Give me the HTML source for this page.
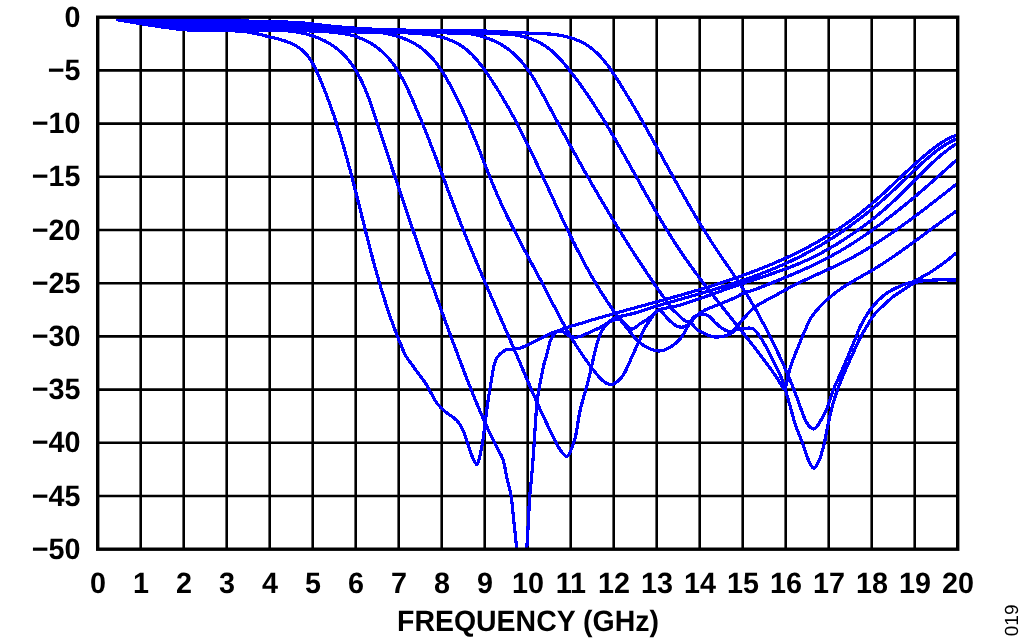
<!DOCTYPE html>
<html><head><meta charset="utf-8"><title>Frequency response</title>
<style>html,body{margin:0;padding:0;background:#fff;}svg{display:block;will-change:transform;}</style></head>
<body><svg width="1024" height="642" viewBox="0 0 1024 642" text-rendering="geometricPrecision">
<defs><clipPath id="pc"><rect x="97.7" y="17.2" width="860.0" height="532.0"/></clipPath></defs>
<rect width="1024" height="642" fill="#fff"/>
<path d="M140.70 17.20V549.20M183.70 17.20V549.20M226.70 17.20V549.20M269.70 17.20V549.20M312.70 17.20V549.20M355.70 17.20V549.20M398.70 17.20V549.20M441.70 17.20V549.20M484.70 17.20V549.20M527.70 17.20V549.20M570.70 17.20V549.20M613.70 17.20V549.20M656.70 17.20V549.20M699.70 17.20V549.20M742.70 17.20V549.20M785.70 17.20V549.20M828.70 17.20V549.20M871.70 17.20V549.20M914.70 17.20V549.20M97.70 70.40H957.70M97.70 123.60H957.70M97.70 176.80H957.70M97.70 230.00H957.70M97.70 283.20H957.70M97.70 336.40H957.70M97.70 389.60H957.70M97.70 442.80H957.70M97.70 496.00H957.70" stroke="#000" stroke-width="2.6" fill="none"/>
<g clip-path="url(#pc)" shape-rendering="crispEdges" stroke="#0000ff" stroke-width="3.2" fill="none" stroke-linejoin="round" stroke-linecap="round"><path d="M117.6 19.8 C122.1 20.5 126.2 21.2 131.0 22.0 C136.6 22.9 142.9 24.0 149.0 25.0 C155.2 26.0 161.8 27.0 168.0 27.8 C173.8 28.6 179.5 29.4 185.0 29.8 C190.1 30.2 193.7 30.1 200.0 30.3 C210.6 30.6 232.1 30.3 243.0 31.4 C249.8 32.1 254.6 33.3 259.3 34.3 C263.0 35.1 265.7 36.0 269.0 36.8 C272.4 37.6 277.1 38.7 279.4 39.3 C280.5 39.6 281.0 39.8 281.9 40.0 C282.7 40.3 283.6 40.6 284.4 40.8 C285.2 41.1 286.0 41.4 286.8 41.7 C287.6 42.0 288.4 42.3 289.2 42.6 C290.0 43.0 290.8 43.3 291.6 43.6 C292.3 44.0 293.1 44.3 293.9 44.7 C294.6 45.1 295.3 45.5 296.0 45.9 C296.8 46.3 297.5 46.7 298.1 47.2 C298.8 47.6 299.5 48.1 300.1 48.6 C300.8 49.1 301.4 49.6 302.0 50.1 C302.6 50.6 303.2 51.1 303.8 51.7 C304.4 52.2 304.9 52.8 305.5 53.4 C306.0 54.0 306.5 54.6 307.1 55.2 C307.6 55.8 308.1 56.5 308.5 57.1 C309.0 57.8 309.5 58.4 309.9 59.1 C310.4 59.8 310.8 60.4 311.3 61.1 C311.7 61.8 312.1 62.5 312.5 63.3 C313.0 64.0 313.4 64.7 313.7 65.4 C314.1 66.2 314.5 66.9 314.9 67.6 C315.3 68.4 315.6 69.1 316.0 69.9 C316.4 70.7 316.7 71.4 317.1 72.2 C317.4 73.0 317.8 73.7 318.1 74.5 C318.5 75.3 318.8 76.1 319.1 76.8 C319.5 77.6 319.8 78.4 320.1 79.2 C320.5 80.0 320.8 80.7 321.1 81.5 C321.4 82.3 321.8 83.1 322.1 83.9 C322.4 84.7 322.7 85.4 323.0 86.2 C323.4 87.0 323.7 87.8 324.0 88.6 C324.3 89.4 324.6 90.1 324.9 90.9 C325.2 91.7 325.5 92.5 325.8 93.3 C326.1 94.1 326.4 94.9 326.7 95.7 C327.0 96.5 327.3 97.2 327.6 98.0 C327.9 98.8 328.2 99.6 328.5 100.4 C328.8 101.2 329.1 102.0 329.4 102.8 C329.7 103.6 330.0 104.4 330.3 105.2 C330.5 106.0 330.8 106.8 331.1 107.6 C331.4 108.4 331.7 109.2 331.9 110.0 C332.2 110.8 332.5 111.6 332.8 112.4 C333.1 113.1 333.3 113.9 333.6 114.7 C333.9 115.5 334.1 116.3 334.4 117.1 C334.7 117.9 334.9 118.8 335.2 119.6 C335.5 120.4 335.7 121.2 336.0 122.0 C336.3 122.8 336.5 123.6 336.8 124.4 C337.0 125.2 337.3 126.0 337.6 126.8 C337.8 127.6 338.1 128.4 338.3 129.2 C338.6 130.0 338.8 130.8 339.1 131.6 C339.3 132.4 339.6 133.2 339.8 134.0 C340.1 134.8 340.3 135.7 340.6 136.5 C340.8 137.3 341.1 138.1 341.3 138.9 C341.5 139.7 341.8 140.5 342.0 141.3 C342.3 142.1 342.5 142.9 342.7 143.8 C343.0 144.6 343.2 145.4 343.4 146.2 C343.7 147.0 343.9 147.8 344.2 148.6 C344.4 149.4 344.6 150.2 344.8 151.1 C345.1 151.9 345.3 152.7 345.5 153.5 C345.8 154.3 346.0 155.1 346.2 155.9 C346.5 156.8 346.7 157.6 346.9 158.4 C347.1 159.2 347.4 160.0 347.6 160.8 C347.8 161.7 348.0 162.5 348.2 163.3 C348.5 164.1 348.7 164.9 348.9 165.7 C349.1 166.6 349.4 167.4 349.6 168.2 C349.8 169.0 350.0 169.8 350.2 170.6 C350.4 171.5 350.7 172.3 350.9 173.1 C351.1 173.9 351.3 174.7 351.5 175.6 C351.7 176.4 352.0 177.2 352.2 178.0 C352.4 178.8 352.6 179.6 352.8 180.5 C353.0 181.3 353.2 182.1 353.4 182.9 C353.7 183.7 353.9 184.6 354.1 185.4 C354.3 186.2 354.5 187.0 354.7 187.8 C354.9 188.7 355.1 189.5 355.3 190.3 C355.5 191.1 355.7 192.0 356.0 192.8 C356.2 193.6 356.4 194.4 356.6 195.2 C356.8 196.1 357.0 196.9 357.2 197.7 C357.4 198.5 357.6 199.3 357.8 200.2 C358.0 201.0 358.2 201.8 358.4 202.6 C358.6 203.5 358.9 204.3 359.1 205.1 C359.3 205.9 359.5 206.7 359.7 207.6 C359.9 208.4 360.1 209.2 360.3 210.0 C360.5 210.8 360.7 211.7 360.9 212.5 C361.1 213.3 361.3 214.1 361.5 215.0 C361.7 215.8 361.9 216.6 362.1 217.4 C362.3 218.2 362.5 219.1 362.7 219.9 C363.0 220.7 363.2 221.5 363.4 222.4 C363.6 223.2 363.8 224.0 364.0 224.8 C364.2 225.6 364.4 226.5 364.6 227.3 C364.8 228.1 365.0 228.9 365.2 229.7 C365.4 230.6 365.6 231.4 365.8 232.2 C366.0 233.0 366.3 233.9 366.5 234.7 C366.7 235.5 366.9 236.3 367.1 237.1 C367.3 238.0 367.5 238.8 367.7 239.6 C367.9 240.4 368.1 241.2 368.3 242.1 C368.6 242.9 368.8 243.7 369.0 244.5 C369.2 245.3 369.4 246.2 369.6 247.0 C369.8 247.8 370.0 248.6 370.3 249.4 C370.5 250.3 370.7 251.1 370.9 251.9 C371.1 252.7 371.3 253.5 371.5 254.4 C371.8 255.2 372.0 256.0 372.2 256.8 C372.4 257.6 372.6 258.4 372.8 259.3 C373.1 260.1 373.3 260.9 373.5 261.7 C373.7 262.5 373.9 263.3 374.2 264.2 C374.4 265.0 374.6 265.8 374.8 266.6 C375.1 267.4 375.3 268.2 375.5 269.1 C375.7 269.9 376.0 270.7 376.2 271.5 C376.4 272.3 376.6 273.1 376.9 273.9 C377.1 274.7 377.3 275.6 377.6 276.4 C377.8 277.2 378.0 278.0 378.3 278.8 C378.5 279.6 378.7 280.4 379.0 281.2 C379.2 282.1 379.4 282.9 379.7 283.7 C379.9 284.5 380.1 285.3 380.4 286.1 C380.6 286.9 380.9 287.7 381.1 288.5 C381.4 289.4 381.6 290.2 381.8 291.0 C382.1 291.8 382.3 292.6 382.6 293.4 C382.8 294.2 383.1 295.0 383.3 295.8 C383.6 296.6 383.8 297.4 384.1 298.2 C384.3 299.0 384.6 299.8 384.9 300.6 C385.1 301.4 385.4 302.3 385.6 303.1 C385.9 303.9 386.1 304.7 386.4 305.5 C386.7 306.3 386.9 307.1 387.2 307.9 C387.5 308.7 387.7 309.5 388.0 310.3 C388.3 311.1 388.5 311.9 388.8 312.7 C389.1 313.5 389.3 314.3 389.6 315.1 C389.9 315.9 390.2 316.7 390.4 317.5 C390.7 318.3 391.0 319.1 391.3 319.9 C391.6 320.6 391.9 321.4 392.1 322.2 C392.4 323.0 392.7 323.8 393.0 324.6 C393.3 325.4 393.6 326.2 393.9 327.0 C394.2 327.8 394.5 328.6 394.8 329.4 C395.1 330.2 395.3 331.0 395.6 331.7 C395.9 332.5 396.3 333.3 396.6 334.1 C396.9 334.9 397.0 335.4 397.5 336.5 C398.3 338.6 400.2 342.9 401.5 346.0 C402.7 348.9 403.3 351.5 405.0 354.6 C407.3 358.8 411.4 363.8 414.8 368.6 C418.4 373.6 422.4 378.5 426.0 384.0 C429.9 390.0 433.4 398.6 437.2 403.6 C440.0 407.2 442.5 409.3 445.6 412.0 C449.0 414.9 453.9 417.3 456.8 420.4 C459.3 423.0 460.9 425.9 462.4 428.8 C463.9 431.7 464.6 434.3 465.8 437.8 C467.5 442.6 469.5 450.2 471.6 455.0 C473.2 458.7 475.1 464.6 476.6 464.4 C478.6 464.2 480.3 453.7 481.7 447.2 C483.5 439.0 484.4 428.0 485.6 419.0 C486.7 410.8 487.7 402.6 488.8 395.6 C489.6 389.9 490.7 384.8 491.5 380.0 C492.2 375.9 492.5 372.4 493.3 368.8 C494.1 365.3 495.0 361.2 496.4 358.6 C497.5 356.6 498.8 355.3 500.3 353.9 C501.9 352.4 503.9 350.8 505.8 350.0 C507.5 349.3 509.3 349.4 511.2 349.2 C513.6 348.9 516.4 349.0 519.0 348.4 C521.7 347.8 524.3 346.5 526.9 345.3 C529.5 344.1 532.1 342.7 534.7 341.4 C537.3 340.1 539.9 338.8 542.5 337.5 C545.1 336.2 547.7 334.7 550.3 333.6 C552.9 332.5 555.3 331.9 558.1 330.9 C561.3 329.7 565.0 328.0 568.2 327.0 C571.0 326.1 574.2 325.5 576.2 324.9 C577.5 324.5 578.2 324.2 579.2 323.9 C580.2 323.6 581.2 323.3 582.2 323.0 C583.2 322.7 584.2 322.4 585.2 322.1 C586.2 321.8 587.2 321.5 588.2 321.1 C589.2 320.8 590.2 320.5 591.2 320.2 C592.2 319.9 593.2 319.6 594.2 319.3 C595.2 319.0 596.2 318.7 597.2 318.5 C598.2 318.2 599.2 317.9 600.2 317.6 C601.2 317.3 602.2 317.0 603.2 316.7 C604.2 316.4 605.2 316.1 606.2 315.8 C607.2 315.5 608.2 315.3 609.2 315.0 C610.2 314.7 611.2 314.4 612.2 314.1 C613.2 313.8 614.2 313.5 615.2 313.3 C616.2 313.0 617.2 312.7 618.2 312.4 C619.2 312.1 620.2 311.9 621.2 311.6 C622.2 311.3 623.2 311.0 624.2 310.7 C625.2 310.5 626.2 310.2 627.2 309.9 C628.2 309.6 629.2 309.4 630.2 309.1 C631.2 308.8 632.2 308.5 633.2 308.3 C634.2 308.0 635.2 307.7 636.2 307.4 C637.2 307.2 638.2 306.9 639.2 306.6 C640.2 306.3 641.2 306.1 642.2 305.8 C643.2 305.5 644.2 305.2 645.2 305.0 C646.2 304.7 647.3 304.4 648.2 304.1 C649.3 303.9 650.3 303.6 651.2 303.3 C652.3 303.0 653.3 302.8 654.2 302.5 C655.3 302.2 656.3 301.9 657.2 301.7 C658.3 301.4 659.3 301.1 660.2 300.8 C661.3 300.6 662.3 300.3 663.2 300.0 C664.3 299.7 665.3 299.5 666.2 299.2 C667.3 298.9 668.3 298.6 669.2 298.4 C670.3 298.1 671.3 297.8 672.2 297.5 C673.3 297.2 674.3 297.0 675.2 296.7 C676.3 296.4 677.3 296.1 678.2 295.8 C679.3 295.5 680.3 295.3 681.2 295.0 C682.3 294.7 683.3 294.4 684.2 294.1 C685.3 293.8 686.3 293.5 687.2 293.2 C688.3 293.0 689.3 292.7 690.2 292.4 C691.3 292.1 692.3 291.8 693.2 291.5 C694.3 291.2 695.3 290.9 696.2 290.6 C697.3 290.3 698.3 290.0 699.2 289.7 C700.3 289.4 701.3 289.1 702.2 288.8 C703.3 288.5 704.3 288.2 705.2 287.9 C706.3 287.6 707.3 287.3 708.2 287.0 C709.3 286.6 710.3 286.3 711.2 286.0 C712.3 285.7 713.3 285.4 714.2 285.1 C715.3 284.8 716.3 284.4 717.2 284.1 C718.3 283.8 719.3 283.5 720.2 283.1 C721.3 282.8 722.3 282.5 723.2 282.2 C724.3 281.8 725.3 281.5 726.2 281.2 C727.3 280.8 728.3 280.5 729.2 280.2 C730.3 279.8 731.3 279.5 732.2 279.1 C733.3 278.8 734.3 278.5 735.2 278.1 C736.3 277.8 737.3 277.4 738.2 277.1 C739.3 276.7 740.3 276.3 741.2 276.0 C742.3 275.6 743.3 275.3 744.2 274.9 C745.3 274.5 746.3 274.2 747.2 273.8 C748.3 273.4 749.3 273.1 750.2 272.7 C751.3 272.3 752.3 271.9 753.2 271.6 C754.3 271.2 755.3 270.8 756.2 270.4 C757.3 270.0 758.3 269.6 759.2 269.2 C760.3 268.8 761.3 268.4 762.2 268.0 C763.3 267.6 764.3 267.2 765.2 266.8 C766.3 266.4 767.3 266.0 768.2 265.6 C769.3 265.2 770.3 264.8 771.2 264.4 C772.3 263.9 773.3 263.5 774.2 263.1 C775.3 262.7 776.3 262.2 777.2 261.8 C778.3 261.4 779.3 260.9 780.2 260.5 C781.3 260.0 782.3 259.6 783.2 259.2 C784.3 258.7 785.3 258.3 786.2 257.8 C787.3 257.3 788.3 256.9 789.2 256.4 C790.3 255.9 791.3 255.5 792.2 255.0 C793.3 254.5 794.3 254.0 795.2 253.6 C796.3 253.1 797.3 252.6 798.2 252.1 C799.3 251.6 800.3 251.1 801.2 250.6 C802.3 250.1 803.3 249.6 804.2 249.0 C805.3 248.5 806.3 248.0 807.2 247.5 C808.3 247.0 809.3 246.4 810.2 245.9 C811.3 245.3 812.3 244.8 813.2 244.2 C814.3 243.7 815.3 243.1 816.2 242.6 C817.3 242.0 818.3 241.4 819.2 240.9 C820.3 240.3 821.3 239.7 822.2 239.1 C823.3 238.5 824.3 237.9 825.2 237.3 C826.3 236.7 827.3 236.1 828.2 235.5 C829.3 234.9 830.3 234.3 831.2 233.6 C832.3 233.0 833.3 232.4 834.2 231.7 C835.3 231.1 836.3 230.4 837.2 229.8 C838.3 229.1 839.3 228.4 840.2 227.8 C841.3 227.1 842.3 226.4 843.2 225.7 C844.3 225.0 845.3 224.3 846.2 223.6 C847.3 222.9 848.3 222.2 849.2 221.5 C850.3 220.8 851.3 220.0 852.2 219.3 C853.3 218.6 854.3 217.8 855.2 217.0 C856.3 216.3 857.3 215.5 858.2 214.8 C859.3 214.0 860.3 213.2 861.2 212.4 C862.3 211.6 863.3 210.8 864.2 210.0 C865.3 209.2 866.3 208.4 867.2 207.5 C868.3 206.7 869.3 205.9 870.2 205.0 C871.3 204.2 872.3 203.3 873.2 202.4 C874.3 201.6 875.3 200.7 876.2 199.8 C877.3 198.9 878.3 198.0 879.2 197.1 C880.3 196.2 881.3 195.3 882.2 194.4 C883.3 193.5 884.3 192.6 885.2 191.7 C886.3 190.7 887.3 189.8 888.2 188.9 C889.3 187.9 890.3 187.0 891.2 186.1 C892.3 185.1 893.3 184.2 894.2 183.3 C895.3 182.3 896.2 181.4 897.2 180.4 C898.2 179.5 899.2 178.6 900.2 177.6 C901.2 176.7 902.2 175.7 903.2 174.8 C904.2 173.9 905.2 172.9 906.2 172.0 C907.2 171.1 908.2 170.1 909.2 169.2 C910.2 168.3 911.2 167.4 912.2 166.5 C913.2 165.6 914.2 164.7 915.2 163.8 C916.2 162.9 917.2 162.0 918.2 161.1 C919.2 160.2 920.2 159.3 921.2 158.5 C922.2 157.6 923.2 156.7 924.2 155.9 C925.2 155.1 926.2 154.2 927.2 153.4 C928.2 152.6 929.2 151.8 930.2 151.0 C931.2 150.2 932.2 149.4 933.2 148.6 C934.2 147.9 935.2 147.1 936.2 146.4 C937.2 145.7 938.2 144.9 939.2 144.2 C940.2 143.6 941.2 142.9 942.2 142.3 C943.2 141.6 944.2 141.0 945.2 140.4 C946.2 139.8 947.2 139.3 948.2 138.7 C949.2 138.2 950.2 137.7 951.2 137.3 C952.2 136.8 953.2 136.4 954.2 136.0 C955.2 135.6 956.6 135.2 957.2 135.0 C957.6 134.9 957.8 134.8 958.0 134.8"/><path d="M117.6 19.8 C125.1 20.5 132.0 20.7 140.0 21.8 C149.3 23.1 160.0 25.9 170.0 27.3 C180.0 28.7 188.7 29.7 200.0 30.3 C214.5 31.1 234.2 30.7 250.0 30.8 C264.2 30.9 280.7 30.2 290.5 31.1 C296.2 31.6 301.1 32.8 303.8 33.4 C305.0 33.6 305.5 33.8 306.3 34.0 C307.1 34.2 307.9 34.5 308.8 34.7 C309.6 34.9 310.4 35.2 311.2 35.4 C312.0 35.7 312.8 35.9 313.6 36.2 C314.4 36.5 315.2 36.8 316.0 37.1 C316.8 37.4 317.5 37.7 318.3 38.0 C319.1 38.3 319.9 38.6 320.6 39.0 C321.4 39.3 322.1 39.6 322.9 40.0 C323.6 40.3 324.3 40.7 325.1 41.1 C325.8 41.5 326.5 41.9 327.2 42.2 C327.9 42.6 328.6 43.0 329.3 43.5 C330.0 43.9 330.7 44.3 331.4 44.7 C332.0 45.2 332.7 45.6 333.4 46.1 C334.0 46.5 334.7 47.0 335.3 47.5 C336.0 47.9 336.6 48.4 337.2 48.9 C337.8 49.4 338.4 49.9 339.1 50.4 C339.7 50.9 340.3 51.5 340.8 52.0 C341.4 52.5 342.0 53.1 342.6 53.6 C343.1 54.2 343.7 54.7 344.2 55.3 C344.8 55.9 345.3 56.5 345.9 57.0 C346.4 57.6 346.9 58.2 347.4 58.8 C347.9 59.4 348.5 60.0 348.9 60.7 C349.4 61.3 349.9 61.9 350.4 62.5 C350.9 63.2 351.4 63.8 351.8 64.5 C352.3 65.1 352.8 65.8 353.2 66.4 C353.6 67.1 354.1 67.8 354.5 68.5 C355.0 69.1 355.4 69.8 355.8 70.5 C356.2 71.2 356.6 71.9 357.1 72.6 C357.5 73.3 357.9 74.0 358.3 74.7 C358.7 75.5 359.0 76.2 359.4 76.9 C359.8 77.6 360.2 78.4 360.6 79.1 C360.9 79.9 361.3 80.6 361.7 81.3 C362.0 82.1 362.4 82.8 362.7 83.6 C363.1 84.4 363.4 85.1 363.8 85.9 C364.1 86.7 364.4 87.4 364.8 88.2 C365.1 89.0 365.4 89.8 365.7 90.5 C366.1 91.3 366.4 92.1 366.7 92.9 C367.0 93.7 367.3 94.5 367.6 95.3 C368.0 96.1 368.3 96.9 368.6 97.7 C368.9 98.5 369.2 99.3 369.5 100.1 C369.7 100.9 370.0 101.7 370.3 102.5 C370.6 103.3 370.9 104.1 371.2 105.0 C371.5 105.8 371.8 106.6 372.0 107.4 C372.3 108.2 372.6 109.0 372.9 109.9 C373.2 110.7 373.4 111.5 373.7 112.3 C374.0 113.1 374.3 114.0 374.5 114.8 C374.8 115.6 375.1 116.4 375.3 117.3 C375.6 118.1 375.9 118.9 376.2 119.7 C376.4 120.6 376.7 121.4 377.0 122.2 C377.2 123.0 377.5 123.9 377.8 124.7 C378.0 125.5 378.3 126.3 378.6 127.1 C378.8 128.0 379.1 128.8 379.4 129.6 C379.6 130.4 379.9 131.2 380.2 132.1 C380.4 132.9 380.7 133.7 381.0 134.5 C381.3 135.3 381.5 136.2 381.8 137.0 C382.1 137.8 382.3 138.6 382.6 139.4 C382.9 140.2 383.1 141.0 383.4 141.9 C383.7 142.7 383.9 143.5 384.2 144.3 C384.5 145.1 384.7 145.9 385.0 146.7 C385.3 147.6 385.5 148.4 385.8 149.2 C386.1 150.0 386.3 150.8 386.6 151.6 C386.9 152.4 387.1 153.2 387.4 154.0 C387.7 154.9 387.9 155.7 388.2 156.5 C388.5 157.3 388.8 158.1 389.0 158.9 C389.3 159.7 389.6 160.5 389.8 161.3 C390.1 162.1 390.4 162.9 390.6 163.7 C390.9 164.6 391.2 165.4 391.4 166.2 C391.7 167.0 392.0 167.8 392.2 168.6 C392.5 169.4 392.8 170.2 393.0 171.0 C393.3 171.8 393.6 172.6 393.8 173.4 C394.1 174.2 394.4 175.0 394.6 175.8 C394.9 176.6 395.2 177.4 395.4 178.2 C395.7 179.0 396.0 179.8 396.3 180.6 C396.5 181.4 396.8 182.2 397.1 183.0 C397.3 183.8 397.6 184.6 397.9 185.4 C398.1 186.2 398.4 187.0 398.7 187.8 C398.9 188.6 399.2 189.4 399.5 190.2 C399.7 191.0 400.0 191.8 400.3 192.6 C400.5 193.4 400.8 194.2 401.1 195.0 C401.4 195.8 401.6 196.6 401.9 197.4 C402.2 198.2 402.4 199.0 402.7 199.8 C403.0 200.6 403.2 201.3 403.5 202.1 C403.8 202.9 404.0 203.7 404.3 204.5 C404.6 205.3 404.9 206.1 405.1 206.9 C405.4 207.7 405.7 208.5 405.9 209.3 C406.2 210.1 406.5 210.9 406.7 211.7 C407.0 212.5 407.3 213.2 407.5 214.0 C407.8 214.8 408.1 215.6 408.4 216.4 C408.6 217.2 408.9 218.0 409.2 218.8 C409.4 219.6 409.7 220.4 410.0 221.1 C410.3 221.9 410.5 222.7 410.8 223.5 C411.1 224.3 411.3 225.1 411.6 225.9 C411.9 226.7 412.1 227.5 412.4 228.3 C412.7 229.0 413.0 229.8 413.2 230.6 C413.5 231.4 413.8 232.2 414.0 233.0 C414.3 233.8 414.6 234.6 414.9 235.3 C415.1 236.1 415.4 236.9 415.7 237.7 C415.9 238.5 416.2 239.3 416.5 240.1 C416.8 240.8 417.0 241.6 417.3 242.4 C417.6 243.2 417.9 244.0 418.1 244.8 C418.4 245.6 418.7 246.3 418.9 247.1 C419.2 247.9 419.5 248.7 419.8 249.5 C420.0 250.3 420.3 251.1 420.6 251.8 C420.9 252.6 421.1 253.4 421.4 254.2 C421.7 255.0 422.0 255.8 422.2 256.6 C422.5 257.3 422.8 258.1 423.1 258.9 C423.3 259.7 423.6 260.5 423.9 261.3 C424.2 262.0 424.4 262.8 424.7 263.6 C425.0 264.4 425.3 265.2 425.5 266.0 C425.8 266.7 426.1 267.5 426.4 268.3 C426.6 269.1 426.9 269.9 427.2 270.7 C427.5 271.4 427.7 272.2 428.0 273.0 C428.3 273.8 428.6 274.6 428.8 275.4 C429.1 276.1 429.4 276.9 429.7 277.7 C430.0 278.5 430.2 279.3 430.5 280.0 C430.8 280.8 431.1 281.6 431.3 282.4 C431.6 283.2 431.9 284.0 432.2 284.7 C432.5 285.5 432.7 286.3 433.0 287.1 C433.3 287.9 433.6 288.7 433.9 289.4 C434.1 290.2 434.4 291.0 434.7 291.8 C435.0 292.6 435.3 293.3 435.5 294.1 C435.8 294.9 436.1 295.7 436.4 296.5 C436.7 297.3 436.9 298.0 437.2 298.8 C437.5 299.6 437.8 300.4 438.1 301.2 C438.3 301.9 438.6 302.7 438.9 303.5 C439.2 304.3 439.5 305.1 439.8 305.9 C440.0 306.6 440.3 307.4 440.6 308.2 C440.9 309.0 441.2 309.8 441.5 310.6 C441.7 311.3 442.0 312.1 442.3 312.9 C442.6 313.7 442.9 314.5 443.2 315.2 C443.4 316.0 443.7 316.8 444.0 317.6 C444.3 318.4 444.6 319.2 444.9 319.9 C445.2 320.7 445.4 321.5 445.7 322.3 C446.0 323.1 446.3 323.9 446.6 324.6 C446.9 325.4 447.2 326.2 447.5 327.0 C447.7 327.8 448.0 328.6 448.3 329.3 C448.6 330.1 448.9 330.9 449.2 331.7 C449.5 332.5 449.8 333.3 450.0 334.0 C450.3 334.8 450.6 335.6 450.9 336.4 C451.2 337.2 451.5 338.0 451.8 338.8 C452.1 339.5 452.4 340.3 452.7 341.1 C452.9 341.9 453.2 342.7 453.5 343.5 C453.8 344.3 454.1 345.0 454.4 345.8 C454.7 346.6 455.0 347.4 455.3 348.2 C455.6 349.0 455.9 349.8 456.2 350.5 C456.4 351.3 456.7 352.1 457.0 352.9 C457.3 353.7 457.6 354.5 457.9 355.3 C458.2 356.1 458.5 356.8 458.8 357.6 C459.1 358.4 459.4 359.2 459.7 360.0 C460.0 360.8 460.3 361.6 460.6 362.3 C460.9 363.1 461.2 363.9 461.5 364.7 C461.8 365.5 462.1 366.3 462.4 367.1 C462.7 367.9 463.0 368.6 463.3 369.4 C463.6 370.2 463.9 371.0 464.2 371.8 C464.5 372.6 464.8 373.4 465.1 374.2 C465.4 374.9 465.7 375.7 466.0 376.5 C466.3 377.3 466.6 378.1 466.9 378.9 C467.2 379.7 467.5 380.4 467.8 381.2 C468.1 382.0 468.4 382.8 468.7 383.6 C469.0 384.4 469.4 385.2 469.7 385.9 C470.0 386.7 470.3 387.5 470.6 388.3 C470.9 389.1 471.2 389.9 471.5 390.6 C471.9 391.4 472.2 392.2 472.5 393.0 C472.8 393.8 473.1 394.6 473.4 395.3 C473.8 396.1 474.1 396.9 474.4 397.7 C474.7 398.5 475.0 399.2 475.3 400.0 C475.7 400.8 476.0 401.6 476.3 402.4 C476.6 403.1 477.0 403.9 477.3 404.7 C477.6 405.5 477.9 406.3 478.3 407.0 C478.6 407.8 478.9 408.6 479.3 409.4 C479.6 410.1 479.9 410.9 480.2 411.7 C480.6 412.5 480.9 413.2 481.2 414.0 C481.6 414.8 481.9 415.6 482.3 416.3 C482.6 417.1 482.9 417.9 483.3 418.6 C483.6 419.4 483.9 420.2 484.3 421.0 C484.6 421.7 485.0 422.5 485.3 423.3 C485.7 424.0 486.0 424.8 486.4 425.6 C486.7 426.3 487.1 427.1 487.4 427.9 C487.8 428.6 488.1 429.4 488.5 430.1 C488.8 430.9 489.2 431.7 489.5 432.4 C489.9 433.2 490.1 433.7 490.6 434.7 C491.7 437.0 494.1 442.0 496.0 445.9 C498.1 450.1 501.0 454.0 502.8 459.0 C505.0 465.1 505.8 473.5 507.3 480.0 C508.6 485.6 510.0 489.8 511.0 495.5 C512.2 502.2 512.6 509.6 513.5 517.6 C514.5 526.9 515.8 539.8 516.6 548.0 C517.2 553.6 515.9 560.1 518.0 562.0 C519.5 563.4 523.5 563.4 525.0 562.0 C527.2 560.1 526.2 553.4 526.7 548.0 C527.4 540.7 527.8 531.0 528.3 522.3 C528.8 513.5 529.2 503.4 529.8 495.5 C530.3 489.2 530.9 484.5 531.4 478.7 C531.9 472.6 532.5 467.0 533.0 460.0 C533.7 451.2 534.3 440.0 535.0 430.0 C535.7 420.0 536.1 409.5 537.3 400.0 C538.4 391.3 540.4 381.6 541.7 375.0 C542.6 370.6 543.1 367.3 544.0 364.0 C544.7 361.2 545.7 359.0 546.4 356.2 C547.3 353.1 547.9 349.1 548.8 346.0 C549.5 343.4 550.1 341.0 551.1 339.0 C552.0 337.2 553.0 335.7 554.2 334.4 C555.3 333.1 556.5 331.6 558.0 331.2 C559.5 330.8 561.4 331.2 563.0 331.8 C564.8 332.5 566.5 334.4 568.4 335.3 C570.4 336.2 572.7 337.0 574.7 337.2 C576.4 337.3 577.6 337.1 579.4 336.6 C581.9 336.0 584.9 334.4 588.0 333.1 C591.6 331.5 596.1 329.6 599.7 327.7 C603.0 326.0 606.1 323.6 609.0 322.2 C611.3 321.1 613.5 320.3 615.3 319.8 C616.7 319.4 617.8 318.8 619.0 319.0 C620.2 319.2 621.4 320.1 622.5 321.0 C623.8 322.0 624.8 323.8 626.0 325.0 C627.1 326.2 628.3 327.6 629.5 328.3 C630.5 328.8 631.5 329.1 632.5 329.0 C633.7 328.8 634.8 327.8 636.0 327.0 C637.3 326.1 638.4 324.9 640.0 323.8 C642.0 322.4 644.7 321.2 647.0 319.6 C649.4 317.9 652.1 315.7 654.0 314.0 C655.4 312.7 655.7 311.6 657.6 310.5 C661.7 308.2 676.0 306.4 680.0 305.3 C681.5 304.8 682.0 304.6 683.0 304.3 C684.0 303.9 685.0 303.6 686.0 303.3 C687.0 302.9 688.0 302.6 689.0 302.3 C690.0 301.9 691.0 301.6 692.0 301.2 C693.0 300.9 694.0 300.6 695.0 300.2 C696.0 299.9 697.0 299.5 698.0 299.2 C699.0 298.8 700.0 298.5 701.0 298.1 C702.0 297.8 703.0 297.4 704.0 297.1 C705.0 296.7 706.0 296.4 707.0 296.0 C708.0 295.7 709.0 295.3 710.0 295.0 C711.0 294.6 712.0 294.3 713.0 293.9 C714.0 293.6 715.0 293.2 716.0 292.8 C717.0 292.5 718.0 292.1 719.0 291.8 C720.0 291.4 721.0 291.1 722.0 290.7 C723.0 290.3 724.0 290.0 725.0 289.6 C726.0 289.3 727.0 288.9 728.0 288.6 C729.0 288.2 730.0 287.9 731.0 287.5 C732.0 287.2 733.0 286.8 734.0 286.5 C735.0 286.1 736.0 285.8 737.0 285.4 C738.0 285.1 739.0 284.7 740.0 284.4 C741.0 284.0 742.0 283.7 743.0 283.4 C744.0 283.0 745.0 282.7 746.0 282.3 C747.0 282.0 748.0 281.7 749.0 281.3 C750.0 281.0 751.0 280.7 752.0 280.4 C753.0 280.0 754.0 279.7 755.0 279.4 C756.0 279.0 757.0 278.7 758.0 278.4 C759.0 278.0 760.0 277.7 761.0 277.4 C762.0 277.1 763.0 276.7 764.0 276.4 C765.0 276.1 766.0 275.7 767.0 275.4 C768.0 275.1 769.0 274.7 770.0 274.4 C771.0 274.0 772.0 273.7 773.0 273.4 C774.0 273.0 775.0 272.7 776.0 272.3 C777.0 272.0 778.0 271.6 779.0 271.3 C780.0 270.9 781.0 270.6 782.0 270.2 C783.0 269.8 784.0 269.5 785.0 269.1 C786.0 268.7 787.0 268.4 788.0 268.0 C789.0 267.6 790.0 267.2 791.0 266.8 C792.0 266.4 793.0 266.0 794.0 265.6 C795.0 265.2 796.0 264.8 797.0 264.4 C798.0 264.0 799.0 263.6 800.0 263.2 C801.0 262.7 802.0 262.3 803.0 261.9 C804.0 261.4 805.0 261.0 806.0 260.5 C807.0 260.1 808.0 259.6 809.0 259.1 C810.0 258.7 811.0 258.2 812.0 257.7 C813.0 257.2 814.0 256.7 815.0 256.2 C816.0 255.7 817.0 255.2 818.0 254.7 C819.0 254.2 820.0 253.7 821.0 253.1 C822.0 252.6 823.0 252.0 824.0 251.5 C825.0 250.9 826.0 250.4 827.0 249.8 C828.0 249.3 829.0 248.7 830.0 248.1 C831.0 247.5 832.0 246.9 833.0 246.4 C834.0 245.8 835.0 245.2 836.0 244.6 C837.0 243.9 838.0 243.3 839.0 242.7 C840.0 242.1 841.0 241.5 842.0 240.8 C843.0 240.2 844.0 239.5 845.0 238.9 C846.0 238.2 847.0 237.6 848.0 236.9 C849.0 236.3 850.0 235.6 851.0 234.9 C852.0 234.2 853.0 233.6 854.0 232.9 C855.0 232.2 856.0 231.5 857.0 230.8 C858.0 230.1 859.0 229.4 860.0 228.6 C861.0 227.9 862.0 227.2 863.0 226.5 C864.0 225.7 865.0 225.0 866.0 224.2 C867.0 223.5 868.0 222.7 869.0 222.0 C870.0 221.2 871.0 220.4 872.0 219.6 C873.0 218.8 874.0 218.0 875.0 217.2 C876.0 216.4 877.0 215.6 878.0 214.8 C879.0 214.0 880.0 213.1 881.0 212.3 C882.0 211.5 883.0 210.6 884.0 209.7 C885.0 208.9 886.0 208.0 887.0 207.1 C888.0 206.2 889.0 205.3 890.0 204.4 C891.0 203.5 892.0 202.6 893.0 201.7 C894.0 200.8 895.0 199.8 896.0 198.9 C897.0 197.9 898.0 196.9 899.0 196.0 C900.0 195.0 901.0 194.0 902.0 193.0 C903.0 192.0 904.0 191.1 905.0 190.1 C906.0 189.1 907.0 188.0 908.0 187.0 C909.0 186.0 910.0 185.0 911.0 184.0 C912.0 183.0 913.0 182.0 914.0 181.0 C915.0 179.9 916.0 178.9 917.0 177.9 C918.0 176.9 919.0 175.9 920.0 174.9 C921.0 173.9 922.0 172.9 923.0 171.9 C924.0 170.9 925.0 169.9 926.0 168.9 C927.0 168.0 928.0 167.0 929.0 166.0 C930.0 165.1 931.0 164.1 932.0 163.2 C933.0 162.3 934.0 161.3 935.0 160.4 C936.0 159.5 937.0 158.6 938.0 157.8 C939.0 156.9 940.0 156.0 941.0 155.2 C942.0 154.3 943.0 153.5 944.0 152.7 C945.0 151.9 946.0 151.1 947.0 150.4 C948.0 149.6 949.0 148.9 950.0 148.1 C951.0 147.4 952.0 146.7 953.0 146.1 C954.0 145.4 955.1 144.7 956.0 144.2 C956.7 143.7 957.3 143.4 958.0 143.0"/><path d="M117.6 19.8 C128.4 21.3 138.6 22.7 150.0 24.2 C162.6 25.8 175.9 28.0 190.0 29.0 C205.7 30.1 221.4 29.5 240.0 29.8 C263.5 30.2 301.1 30.2 320.0 31.3 C330.5 31.9 340.4 33.1 344.3 33.7 C345.6 33.9 346.0 34.0 346.8 34.2 C347.7 34.4 348.5 34.5 349.3 34.7 C350.1 34.9 350.9 35.1 351.7 35.3 C352.5 35.6 353.3 35.8 354.1 36.0 C354.9 36.3 355.7 36.5 356.4 36.8 C357.2 37.0 358.0 37.3 358.7 37.6 C359.5 37.8 360.2 38.1 361.0 38.4 C361.7 38.7 362.5 39.0 363.2 39.3 C363.9 39.7 364.7 40.0 365.4 40.4 C366.1 40.7 366.8 41.1 367.5 41.4 C368.2 41.8 368.9 42.2 369.6 42.6 C370.3 43.0 371.0 43.4 371.6 43.8 C372.3 44.2 373.0 44.6 373.6 45.1 C374.3 45.5 374.9 45.9 375.6 46.4 C376.2 46.9 376.8 47.3 377.5 47.8 C378.1 48.3 378.7 48.8 379.3 49.3 C379.9 49.8 380.5 50.3 381.1 50.8 C381.7 51.3 382.3 51.9 382.9 52.4 C383.5 52.9 384.1 53.5 384.6 54.0 C385.2 54.6 385.7 55.2 386.3 55.8 C386.8 56.3 387.4 56.9 387.9 57.5 C388.5 58.1 389.0 58.7 389.5 59.3 C390.0 59.9 390.5 60.6 391.0 61.2 C391.5 61.8 392.0 62.5 392.5 63.1 C393.0 63.8 393.5 64.4 394.0 65.1 C394.5 65.8 394.9 66.4 395.4 67.1 C395.9 67.8 396.3 68.5 396.8 69.2 C397.2 69.9 397.7 70.6 398.1 71.3 C398.5 72.0 399.0 72.7 399.4 73.4 C399.8 74.1 400.2 74.9 400.7 75.6 C401.1 76.3 401.5 77.1 401.9 77.8 C402.3 78.5 402.7 79.3 403.1 80.0 C403.5 80.8 403.9 81.5 404.3 82.3 C404.7 83.0 405.0 83.8 405.4 84.6 C405.8 85.3 406.2 86.1 406.6 86.9 C406.9 87.6 407.3 88.4 407.7 89.2 C408.0 90.0 408.4 90.7 408.8 91.5 C409.1 92.3 409.5 93.1 409.8 93.9 C410.2 94.7 410.5 95.4 410.9 96.2 C411.2 97.0 411.6 97.8 411.9 98.6 C412.3 99.4 412.6 100.2 413.0 101.0 C413.3 101.7 413.7 102.5 414.0 103.3 C414.3 104.1 414.7 104.9 415.0 105.7 C415.4 106.5 415.7 107.3 416.0 108.1 C416.4 108.8 416.7 109.6 417.0 110.4 C417.4 111.2 417.7 112.0 418.0 112.8 C418.4 113.6 418.7 114.4 419.0 115.2 C419.4 115.9 419.7 116.7 420.0 117.5 C420.3 118.3 420.7 119.1 421.0 119.9 C421.3 120.7 421.6 121.5 422.0 122.3 C422.3 123.0 422.6 123.8 422.9 124.6 C423.2 125.4 423.6 126.2 423.9 127.0 C424.2 127.8 424.5 128.6 424.8 129.3 C425.1 130.1 425.5 130.9 425.8 131.7 C426.1 132.5 426.4 133.3 426.7 134.1 C427.0 134.9 427.3 135.7 427.6 136.4 C427.9 137.2 428.3 138.0 428.6 138.8 C428.9 139.6 429.2 140.4 429.5 141.2 C429.8 142.0 430.1 142.7 430.4 143.5 C430.7 144.3 431.0 145.1 431.3 145.9 C431.6 146.7 431.9 147.5 432.2 148.2 C432.5 149.0 432.8 149.8 433.1 150.6 C433.5 151.4 433.8 152.2 434.1 153.0 C434.4 153.8 434.7 154.5 435.0 155.3 C435.3 156.1 435.6 156.9 435.9 157.7 C436.2 158.5 436.4 159.3 436.7 160.0 C437.0 160.8 437.3 161.6 437.6 162.4 C437.9 163.2 438.2 164.0 438.5 164.8 C438.8 165.5 439.1 166.3 439.4 167.1 C439.7 167.9 440.0 168.7 440.3 169.5 C440.6 170.3 440.9 171.0 441.2 171.8 C441.5 172.6 441.8 173.4 442.1 174.2 C442.4 175.0 442.7 175.8 443.0 176.5 C443.3 177.3 443.5 178.1 443.8 178.9 C444.1 179.7 444.4 180.5 444.7 181.2 C445.0 182.0 445.3 182.8 445.6 183.6 C445.9 184.4 446.2 185.2 446.5 185.9 C446.8 186.7 447.1 187.5 447.4 188.3 C447.7 189.1 447.9 189.9 448.2 190.6 C448.5 191.4 448.8 192.2 449.1 193.0 C449.4 193.8 449.7 194.6 450.0 195.3 C450.3 196.1 450.6 196.9 450.9 197.7 C451.2 198.5 451.5 199.2 451.8 200.0 C452.1 200.8 452.4 201.6 452.7 202.4 C452.9 203.1 453.2 203.9 453.5 204.7 C453.8 205.5 454.1 206.3 454.4 207.0 C454.7 207.8 455.0 208.6 455.3 209.4 C455.6 210.2 455.9 210.9 456.2 211.7 C456.5 212.5 456.8 213.3 457.1 214.1 C457.4 214.8 457.7 215.6 458.0 216.4 C458.3 217.2 458.6 218.0 458.9 218.7 C459.2 219.5 459.5 220.3 459.8 221.1 C460.1 221.8 460.4 222.6 460.7 223.4 C461.0 224.2 461.3 225.0 461.6 225.7 C461.9 226.5 462.2 227.3 462.5 228.1 C462.8 228.8 463.2 229.6 463.5 230.4 C463.8 231.2 464.1 231.9 464.4 232.7 C464.7 233.5 465.0 234.3 465.3 235.0 C465.6 235.8 465.9 236.6 466.2 237.4 C466.6 238.1 466.9 238.9 467.2 239.7 C467.5 240.5 467.8 241.2 468.1 242.0 C468.4 242.8 468.8 243.6 469.1 244.3 C469.4 245.1 469.7 245.9 470.0 246.6 C470.3 247.4 470.7 248.2 471.0 249.0 C471.3 249.7 471.6 250.5 471.9 251.3 C472.2 252.1 472.6 252.8 472.9 253.6 C473.2 254.4 473.5 255.1 473.8 255.9 C474.2 256.7 474.5 257.5 474.8 258.2 C475.1 259.0 475.5 259.8 475.8 260.5 C476.1 261.3 476.4 262.1 476.8 262.8 C477.1 263.6 477.4 264.4 477.7 265.2 C478.1 265.9 478.4 266.7 478.7 267.5 C479.0 268.2 479.4 269.0 479.7 269.8 C480.0 270.6 480.3 271.3 480.7 272.1 C481.0 272.9 481.3 273.6 481.7 274.4 C482.0 275.2 482.3 275.9 482.6 276.7 C483.0 277.5 483.3 278.2 483.6 279.0 C484.0 279.8 484.3 280.6 484.6 281.3 C485.0 282.1 485.3 282.9 485.6 283.6 C486.0 284.4 486.3 285.2 486.6 285.9 C486.9 286.7 487.3 287.5 487.6 288.2 C487.9 289.0 488.3 289.8 488.6 290.5 C488.9 291.3 489.3 292.1 489.6 292.8 C489.9 293.6 490.3 294.4 490.6 295.2 C490.9 295.9 491.3 296.7 491.6 297.5 C491.9 298.2 492.3 299.0 492.6 299.8 C493.0 300.5 493.3 301.3 493.6 302.1 C494.0 302.8 494.3 303.6 494.6 304.4 C495.0 305.1 495.3 305.9 495.6 306.7 C496.0 307.4 496.3 308.2 496.6 309.0 C497.0 309.7 497.3 310.5 497.6 311.3 C498.0 312.1 498.3 312.8 498.7 313.6 C499.0 314.4 499.3 315.1 499.7 315.9 C500.0 316.7 500.3 317.4 500.7 318.2 C501.0 319.0 501.3 319.7 501.7 320.5 C502.0 321.3 502.3 322.0 502.7 322.8 C503.0 323.6 503.4 324.3 503.7 325.1 C504.0 325.9 504.4 326.7 504.7 327.4 C505.0 328.2 505.4 329.0 505.7 329.7 C506.0 330.5 506.4 331.3 506.7 332.0 C507.0 332.8 507.4 333.6 507.7 334.3 C508.0 335.1 508.4 335.9 508.7 336.7 C509.0 337.4 509.4 338.2 509.7 339.0 C510.0 339.7 510.4 340.5 510.7 341.3 C511.0 342.0 511.4 342.8 511.7 343.6 C512.0 344.3 512.4 345.1 512.7 345.9 C513.0 346.7 513.4 347.4 513.7 348.2 C514.0 349.0 514.4 349.7 514.7 350.5 C515.0 351.3 515.4 352.1 515.7 352.8 C516.0 353.6 516.4 354.4 516.7 355.1 C517.0 355.9 517.4 356.7 517.7 357.5 C518.0 358.2 518.3 359.0 518.7 359.8 C519.0 360.5 519.3 361.3 519.7 362.1 C520.0 362.9 520.3 363.6 520.6 364.4 C521.0 365.2 521.3 366.0 521.6 366.7 C522.0 367.5 522.3 368.3 522.6 369.0 C522.9 369.8 523.3 370.6 523.6 371.4 C523.9 372.1 524.3 372.9 524.6 373.7 C524.9 374.5 525.2 375.2 525.6 376.0 C525.9 376.8 526.2 377.5 526.6 378.3 C526.9 379.1 527.2 379.9 527.5 380.6 C527.9 381.4 528.2 382.2 528.5 382.9 C528.9 383.7 529.2 384.5 529.5 385.3 C529.9 386.0 530.2 386.8 530.5 387.6 C530.8 388.3 531.2 389.1 531.5 389.9 C531.8 390.6 532.2 391.4 532.5 392.2 C532.8 393.0 533.2 393.7 533.5 394.5 C533.9 395.3 534.2 396.0 534.5 396.8 C534.9 397.6 535.2 398.3 535.5 399.1 C535.9 399.9 536.2 400.6 536.6 401.4 C536.9 402.2 537.2 402.9 537.6 403.7 C537.9 404.5 538.3 405.2 538.6 406.0 C539.0 406.8 539.3 407.5 539.6 408.3 C540.0 409.0 540.3 409.8 540.7 410.6 C541.0 411.3 541.4 412.1 541.7 412.9 C542.1 413.6 542.4 414.4 542.8 415.1 C543.1 415.9 543.5 416.7 543.9 417.4 C544.2 418.2 544.6 418.9 544.9 419.7 C545.3 420.4 545.6 421.2 546.0 422.0 C546.4 422.7 546.6 423.1 547.1 424.2 C548.6 427.4 553.4 437.7 556.0 442.5 C557.7 445.7 558.8 447.9 560.6 450.3 C562.4 452.6 564.9 457.0 566.9 456.6 C569.8 456.1 572.6 446.0 574.7 439.4 C577.3 431.2 577.8 420.6 580.0 411.0 C582.3 400.8 585.9 389.8 588.4 380.0 C590.6 371.2 592.4 362.2 594.2 355.0 C595.6 349.4 596.7 344.3 598.1 340.2 C599.1 337.1 600.1 334.6 601.2 332.3 C602.2 330.3 603.1 328.6 604.4 326.9 C605.7 325.2 607.4 323.7 609.0 322.2 C610.5 320.8 611.9 319.1 613.7 318.2 C615.6 317.2 617.4 317.1 620.0 316.5 C623.9 315.5 629.6 314.5 635.0 313.0 C641.5 311.2 649.1 308.4 656.4 306.2 C664.1 303.9 675.9 300.6 680.0 299.4 C681.5 298.9 682.0 298.8 683.0 298.5 C684.0 298.2 685.0 297.9 686.0 297.6 C687.0 297.4 688.0 297.1 689.0 296.8 C690.0 296.5 691.0 296.2 692.0 295.9 C693.0 295.6 694.0 295.3 695.0 295.1 C696.0 294.8 697.0 294.5 698.0 294.2 C699.0 293.9 700.0 293.6 701.0 293.3 C702.0 293.0 703.0 292.7 704.0 292.4 C705.0 292.2 706.0 291.9 707.0 291.6 C708.0 291.3 709.0 291.0 710.0 290.7 C711.0 290.4 712.0 290.1 713.0 289.8 C714.0 289.5 715.0 289.2 716.0 288.9 C717.0 288.6 718.0 288.3 719.0 288.0 C720.0 287.7 721.0 287.3 722.0 287.0 C723.0 286.7 724.0 286.4 725.0 286.1 C726.0 285.8 727.0 285.5 728.0 285.2 C729.0 284.8 730.0 284.5 731.0 284.2 C732.0 283.9 733.0 283.6 734.0 283.2 C735.0 282.9 736.0 282.6 737.0 282.2 C738.0 281.9 739.0 281.6 740.0 281.2 C741.0 280.9 742.0 280.6 743.0 280.2 C744.0 279.9 745.0 279.5 746.0 279.2 C747.0 278.8 748.0 278.5 749.0 278.1 C750.0 277.8 751.0 277.4 752.0 277.1 C753.0 276.7 754.0 276.3 755.0 276.0 C756.0 275.6 757.0 275.2 758.0 274.9 C759.0 274.5 760.0 274.1 761.0 273.7 C762.0 273.3 763.0 272.9 764.0 272.6 C765.0 272.2 766.0 271.8 767.0 271.4 C768.0 271.0 769.0 270.6 770.0 270.2 C771.0 269.8 772.0 269.4 773.0 268.9 C774.0 268.5 775.0 268.1 776.0 267.7 C777.0 267.3 778.0 266.8 779.0 266.4 C780.0 266.0 781.0 265.5 782.0 265.1 C783.0 264.6 784.0 264.2 785.0 263.7 C786.0 263.3 787.0 262.8 788.0 262.4 C789.0 261.9 790.0 261.4 791.0 261.0 C792.0 260.5 793.0 260.0 794.0 259.5 C795.0 259.0 796.0 258.6 797.0 258.1 C798.0 257.6 799.0 257.1 800.0 256.6 C801.0 256.1 802.0 255.5 803.0 255.0 C804.0 254.5 805.0 254.0 806.0 253.5 C807.0 252.9 808.0 252.4 809.0 251.9 C810.0 251.3 811.0 250.8 812.0 250.2 C813.0 249.7 814.0 249.1 815.0 248.5 C816.0 248.0 817.0 247.4 818.0 246.8 C819.0 246.2 820.0 245.6 821.0 245.1 C822.0 244.5 823.0 243.9 824.0 243.3 C825.0 242.7 826.0 242.0 827.0 241.4 C828.0 240.8 829.0 240.2 830.0 239.6 C831.0 238.9 832.0 238.3 833.0 237.6 C834.0 237.0 835.0 236.3 836.0 235.7 C837.0 235.0 838.0 234.4 839.0 233.7 C840.0 233.0 841.0 232.3 842.0 231.7 C843.0 231.0 844.0 230.3 845.0 229.6 C846.0 228.9 847.0 228.2 848.0 227.5 C849.0 226.8 850.0 226.1 851.0 225.3 C852.0 224.6 853.0 223.9 854.0 223.1 C855.0 222.4 856.0 221.6 857.0 220.9 C858.0 220.1 859.0 219.4 860.0 218.6 C861.0 217.9 862.0 217.1 863.0 216.3 C864.0 215.5 865.0 214.7 866.0 213.9 C867.0 213.1 868.0 212.3 869.0 211.5 C870.0 210.7 871.0 209.9 872.0 209.1 C873.0 208.3 874.0 207.4 875.0 206.6 C876.0 205.8 877.0 204.9 878.0 204.1 C879.0 203.2 880.0 202.4 881.0 201.5 C882.0 200.6 883.0 199.7 884.0 198.9 C885.0 198.0 886.0 197.1 887.0 196.2 C888.0 195.3 889.0 194.4 890.0 193.5 C891.0 192.6 892.0 191.7 893.0 190.7 C894.0 189.8 895.0 188.9 896.0 187.9 C897.0 187.0 898.0 186.0 899.0 185.1 C900.0 184.1 901.0 183.2 902.0 182.2 C903.0 181.3 904.0 180.3 905.0 179.3 C906.0 178.4 907.0 177.4 908.0 176.4 C909.0 175.5 910.0 174.5 911.0 173.6 C912.0 172.6 913.0 171.6 914.0 170.7 C915.0 169.7 916.0 168.8 917.0 167.9 C918.0 166.9 919.0 166.0 920.0 165.1 C921.0 164.1 922.0 163.2 923.0 162.3 C924.0 161.4 925.0 160.5 926.0 159.6 C927.0 158.8 928.0 157.9 929.0 157.0 C930.0 156.2 931.0 155.4 932.0 154.5 C933.0 153.7 934.0 152.9 935.0 152.1 C936.0 151.3 937.0 150.6 938.0 149.8 C939.0 149.1 940.0 148.4 941.0 147.7 C942.0 147.0 943.0 146.3 944.0 145.6 C945.0 145.0 946.0 144.4 947.0 143.8 C948.0 143.2 949.0 142.6 950.0 142.0 C951.0 141.5 952.0 141.0 953.0 140.5 C954.0 140.0 955.1 139.5 956.0 139.1 C956.7 138.8 957.3 138.6 958.0 138.3"/><path d="M117.6 19.8 C131.7 22.0 146.0 25.1 160.0 26.5 C173.5 27.9 186.7 27.9 200.0 28.3 C213.3 28.7 224.4 28.6 240.0 29.0 C262.1 29.5 295.1 30.6 320.0 31.2 C341.8 31.8 374.5 32.0 381.3 32.6 C382.7 32.8 382.9 32.9 383.7 33.1 C384.6 33.2 385.4 33.4 386.2 33.5 C387.0 33.7 387.8 33.9 388.6 34.1 C389.4 34.2 390.2 34.4 391.0 34.6 C391.8 34.8 392.6 35.0 393.4 35.2 C394.2 35.4 395.0 35.7 395.8 35.9 C396.6 36.1 397.4 36.4 398.2 36.6 C399.0 36.8 399.8 37.1 400.5 37.4 C401.3 37.6 402.1 37.9 402.9 38.2 C403.6 38.5 404.4 38.8 405.2 39.1 C405.9 39.4 406.7 39.7 407.4 40.0 C408.2 40.3 408.9 40.7 409.6 41.0 C410.4 41.4 411.1 41.7 411.8 42.1 C412.5 42.5 413.2 42.9 413.9 43.2 C414.6 43.6 415.3 44.0 416.0 44.5 C416.7 44.9 417.4 45.3 418.1 45.7 C418.7 46.2 419.4 46.6 420.0 47.1 C420.7 47.6 421.3 48.0 422.0 48.5 C422.6 49.0 423.2 49.5 423.8 50.0 C424.4 50.6 425.0 51.1 425.6 51.6 C426.2 52.1 426.8 52.7 427.4 53.2 C428.0 53.8 428.6 54.4 429.1 54.9 C429.7 55.5 430.3 56.1 430.8 56.7 C431.4 57.3 431.9 57.9 432.4 58.5 C433.0 59.1 433.5 59.7 434.0 60.4 C434.5 61.0 435.1 61.6 435.6 62.3 C436.1 62.9 436.6 63.6 437.1 64.2 C437.6 64.9 438.0 65.6 438.5 66.2 C439.0 66.9 439.5 67.6 440.0 68.3 C440.4 68.9 440.9 69.6 441.4 70.3 C441.8 71.0 442.3 71.7 442.7 72.4 C443.2 73.1 443.6 73.8 444.1 74.5 C444.5 75.3 444.9 76.0 445.4 76.7 C445.8 77.4 446.2 78.1 446.7 78.9 C447.1 79.6 447.5 80.3 447.9 81.1 C448.3 81.8 448.8 82.5 449.2 83.3 C449.6 84.0 450.0 84.7 450.4 85.5 C450.8 86.2 451.2 87.0 451.6 87.7 C452.0 88.5 452.4 89.2 452.8 89.9 C453.2 90.7 453.6 91.4 453.9 92.2 C454.3 92.9 454.7 93.7 455.1 94.4 C455.5 95.2 455.8 95.9 456.2 96.7 C456.6 97.5 457.0 98.2 457.3 99.0 C457.7 99.7 458.1 100.5 458.4 101.2 C458.8 102.0 459.2 102.8 459.5 103.5 C459.9 104.3 460.3 105.0 460.6 105.8 C461.0 106.6 461.3 107.3 461.7 108.1 C462.0 108.9 462.4 109.6 462.7 110.4 C463.1 111.2 463.4 111.9 463.8 112.7 C464.1 113.5 464.5 114.2 464.8 115.0 C465.1 115.8 465.5 116.5 465.8 117.3 C466.1 118.1 466.5 118.9 466.8 119.6 C467.1 120.4 467.5 121.2 467.8 122.0 C468.1 122.7 468.5 123.5 468.8 124.3 C469.1 125.1 469.5 125.8 469.8 126.6 C470.1 127.4 470.4 128.2 470.8 129.0 C471.1 129.7 471.4 130.5 471.7 131.3 C472.0 132.1 472.4 132.8 472.7 133.6 C473.0 134.4 473.3 135.2 473.6 136.0 C473.9 136.8 474.3 137.5 474.6 138.3 C474.9 139.1 475.2 139.9 475.5 140.7 C475.8 141.4 476.1 142.2 476.5 143.0 C476.8 143.8 477.1 144.6 477.4 145.4 C477.7 146.1 478.0 146.9 478.3 147.7 C478.6 148.5 478.9 149.3 479.3 150.1 C479.6 150.9 479.9 151.6 480.2 152.4 C480.5 153.2 480.8 154.0 481.1 154.8 C481.4 155.6 481.7 156.3 482.0 157.1 C482.3 157.9 482.6 158.7 483.0 159.5 C483.3 160.3 483.6 161.1 483.9 161.8 C484.2 162.6 484.5 163.4 484.8 164.2 C485.1 165.0 485.4 165.8 485.7 166.5 C486.0 167.3 486.4 168.1 486.7 168.9 C487.0 169.7 487.3 170.5 487.6 171.2 C487.9 172.0 488.2 172.8 488.5 173.6 C488.8 174.4 489.2 175.1 489.5 175.9 C489.8 176.7 490.1 177.5 490.4 178.3 C490.7 179.1 491.1 179.8 491.4 180.6 C491.7 181.4 492.0 182.2 492.3 182.9 C492.6 183.7 493.0 184.5 493.3 185.3 C493.6 186.1 493.9 186.8 494.3 187.6 C494.6 188.4 494.9 189.2 495.2 189.9 C495.6 190.7 495.9 191.5 496.2 192.3 C496.6 193.0 496.9 193.8 497.2 194.6 C497.6 195.3 497.9 196.1 498.2 196.9 C498.6 197.6 498.9 198.4 499.2 199.2 C499.6 199.9 499.9 200.7 500.3 201.5 C500.6 202.2 501.0 203.0 501.3 203.8 C501.6 204.5 502.0 205.3 502.3 206.1 C502.7 206.8 503.0 207.6 503.4 208.3 C503.8 209.1 504.1 209.9 504.5 210.6 C504.8 211.4 505.2 212.1 505.6 212.9 C505.9 213.7 506.3 214.4 506.6 215.2 C507.0 215.9 507.4 216.7 507.7 217.4 C508.1 218.2 508.5 218.9 508.8 219.7 C509.2 220.4 509.6 221.2 510.0 221.9 C510.3 222.7 510.7 223.4 511.1 224.2 C511.5 224.9 511.8 225.7 512.2 226.4 C512.6 227.2 513.0 227.9 513.3 228.7 C513.7 229.4 514.1 230.2 514.5 230.9 C514.9 231.7 515.3 232.4 515.6 233.1 C516.0 233.9 516.4 234.6 516.8 235.4 C517.2 236.1 517.6 236.9 518.0 237.6 C518.3 238.3 518.7 239.1 519.1 239.8 C519.5 240.6 519.9 241.3 520.3 242.1 C520.7 242.8 521.1 243.5 521.5 244.3 C521.9 245.0 522.3 245.8 522.6 246.5 C523.0 247.2 523.4 248.0 523.8 248.7 C524.2 249.5 524.6 250.2 525.0 250.9 C525.4 251.7 525.8 252.4 526.2 253.2 C526.6 253.9 527.0 254.6 527.4 255.4 C527.8 256.1 528.2 256.8 528.6 257.6 C529.0 258.3 529.4 259.1 529.8 259.8 C530.2 260.5 530.5 261.3 530.9 262.0 C531.3 262.8 531.7 263.5 532.1 264.2 C532.5 265.0 532.9 265.7 533.3 266.5 C533.7 267.2 534.1 267.9 534.5 268.7 C534.9 269.4 535.3 270.2 535.7 270.9 C536.1 271.6 536.5 272.4 536.9 273.1 C537.3 273.9 537.7 274.6 538.1 275.3 C538.4 276.1 538.8 276.8 539.2 277.6 C539.6 278.3 540.0 279.0 540.4 279.8 C540.8 280.5 541.2 281.3 541.6 282.0 C542.0 282.8 542.4 283.5 542.7 284.2 C543.1 285.0 543.5 285.7 543.9 286.5 C544.3 287.2 544.7 288.0 545.1 288.7 C545.4 289.4 545.8 290.2 546.2 290.9 C546.6 291.7 547.0 292.4 547.4 293.2 C547.8 293.9 548.1 294.7 548.5 295.4 C548.9 296.2 549.3 296.9 549.7 297.6 C550.1 298.4 550.4 299.1 550.8 299.9 C551.2 300.6 551.6 301.4 552.0 302.1 C552.4 302.9 552.7 303.6 553.1 304.3 C553.5 305.1 553.9 305.8 554.3 306.6 C554.7 307.3 555.1 308.1 555.5 308.8 C555.8 309.6 556.2 310.3 556.6 311.0 C557.0 311.8 557.4 312.5 557.8 313.3 C558.2 314.0 558.6 314.7 559.0 315.5 C559.4 316.2 559.8 317.0 560.2 317.7 C560.5 318.4 560.9 319.2 561.3 319.9 C561.7 320.7 562.1 321.4 562.5 322.1 C562.9 322.9 563.3 323.6 563.7 324.3 C564.1 325.1 564.6 325.8 565.0 326.5 C565.4 327.3 565.8 328.0 566.2 328.7 C566.6 329.4 567.0 330.2 567.4 330.9 C567.8 331.6 568.3 332.4 568.7 333.1 C569.1 333.8 569.5 334.5 569.9 335.2 C570.4 336.0 570.6 336.4 571.2 337.4 C572.7 339.9 576.0 345.4 579.0 349.8 C582.6 355.2 587.5 362.3 591.3 367.3 C594.4 371.3 597.2 375.1 600.0 377.9 C602.1 380.0 604.0 381.9 606.0 383.0 C607.7 383.9 609.3 384.7 611.0 384.6 C612.7 384.5 614.6 383.3 616.0 382.5 C617.3 381.8 618.1 381.2 619.3 380.0 C621.1 378.2 623.2 375.0 625.0 372.0 C627.0 368.5 628.7 364.0 630.5 360.0 C632.3 356.0 634.4 351.3 636.0 347.8 C637.2 345.2 638.3 343.3 639.3 341.0 C640.3 338.6 641.0 336.0 642.1 333.6 C643.1 331.2 644.2 328.9 645.6 326.6 C647.0 324.2 648.9 322.0 650.5 319.6 C652.2 317.1 653.8 313.5 655.5 311.9 C656.6 310.8 657.9 309.9 659.0 310.0 C660.1 310.0 660.9 311.0 662.0 312.0 C663.8 313.6 666.0 317.0 668.0 319.0 C669.7 320.8 671.5 322.3 673.2 323.6 C674.6 324.7 675.8 325.8 677.4 326.4 C679.1 327.0 681.2 327.3 683.0 327.0 C684.9 326.7 687.0 325.7 688.6 324.5 C690.2 323.3 691.3 321.6 692.8 320.0 C694.4 318.3 696.1 316.1 698.0 314.5 C699.8 312.9 701.5 311.8 704.0 310.5 C707.7 308.5 713.5 306.6 718.5 304.5 C723.9 302.3 731.0 299.6 735.4 297.5 C738.4 296.1 740.0 294.7 742.8 293.5 C746.3 292.0 752.3 290.5 755.0 289.5 C756.3 289.1 757.0 288.8 758.0 288.4 C759.0 288.0 760.0 287.6 761.0 287.2 C762.0 286.8 763.0 286.4 764.0 286.0 C765.0 285.6 766.0 285.2 767.0 284.8 C768.0 284.4 769.0 284.0 770.0 283.6 C771.0 283.2 772.0 282.8 773.0 282.4 C774.0 282.0 775.0 281.6 776.0 281.2 C777.0 280.8 778.0 280.4 779.0 280.0 C780.0 279.6 781.0 279.2 782.0 278.8 C783.0 278.4 784.0 278.0 785.0 277.5 C786.0 277.1 787.0 276.7 788.0 276.3 C789.0 275.9 790.0 275.5 791.0 275.0 C792.0 274.6 793.0 274.2 794.0 273.8 C795.0 273.3 796.0 272.9 797.0 272.5 C798.0 272.0 799.0 271.6 800.0 271.2 C801.0 270.7 802.0 270.3 803.0 269.8 C804.0 269.4 805.0 268.9 806.0 268.5 C807.0 268.0 808.0 267.6 809.0 267.1 C810.0 266.6 811.0 266.2 812.0 265.7 C813.0 265.2 814.0 264.8 815.0 264.3 C816.0 263.8 817.0 263.3 818.0 262.8 C819.0 262.3 820.0 261.8 821.0 261.3 C822.0 260.8 823.0 260.3 824.0 259.8 C825.0 259.3 826.0 258.8 827.0 258.3 C828.0 257.7 829.0 257.2 830.0 256.7 C831.0 256.1 832.0 255.6 833.0 255.0 C834.0 254.5 835.0 253.9 836.0 253.4 C837.0 252.8 838.0 252.2 839.0 251.7 C840.0 251.1 841.0 250.5 842.0 249.9 C843.0 249.3 844.0 248.7 845.0 248.1 C846.0 247.5 847.0 246.9 848.0 246.3 C849.0 245.7 850.0 245.0 851.0 244.4 C852.0 243.8 853.0 243.1 854.0 242.5 C855.0 241.9 856.0 241.2 857.0 240.5 C858.0 239.9 859.0 239.2 860.0 238.6 C861.0 237.9 862.0 237.2 863.0 236.5 C864.0 235.9 865.0 235.2 866.0 234.5 C867.0 233.8 868.0 233.1 869.0 232.4 C870.0 231.7 871.0 231.0 872.0 230.3 C873.0 229.5 874.0 228.8 875.0 228.1 C876.0 227.4 877.0 226.6 878.0 225.9 C879.0 225.2 880.0 224.4 881.0 223.7 C882.0 222.9 883.0 222.2 884.0 221.4 C885.0 220.7 886.0 219.9 887.0 219.1 C888.0 218.4 889.0 217.6 890.0 216.8 C891.0 216.0 892.0 215.3 893.0 214.5 C894.0 213.7 895.0 212.9 896.0 212.1 C897.0 211.3 898.0 210.5 899.0 209.7 C900.0 208.9 901.0 208.1 902.0 207.3 C903.0 206.5 904.0 205.7 905.0 204.9 C906.0 204.0 907.0 203.2 908.0 202.4 C909.0 201.6 910.0 200.7 911.0 199.9 C912.0 199.1 913.0 198.2 914.0 197.4 C915.0 196.5 916.0 195.7 917.0 194.9 C918.0 194.0 919.0 193.2 920.0 192.3 C921.0 191.5 922.0 190.6 923.0 189.7 C924.0 188.9 925.0 188.0 926.0 187.1 C927.0 186.3 928.0 185.4 929.0 184.5 C930.0 183.7 931.0 182.8 932.0 181.9 C933.0 181.0 934.0 180.2 935.0 179.3 C936.0 178.4 937.0 177.5 938.0 176.6 C939.0 175.8 940.0 174.9 941.0 174.0 C942.0 173.1 943.0 172.2 944.0 171.3 C945.0 170.4 946.0 169.5 947.0 168.6 C948.0 167.7 949.0 166.8 950.0 165.9 C951.0 165.0 952.0 164.1 953.0 163.2 C954.0 162.3 955.1 161.3 956.0 160.5 C956.7 159.8 957.3 159.3 958.0 158.7"/><path d="M117.6 19.8 C135.1 22.0 151.2 25.2 170.0 26.5 C191.6 28.0 215.9 26.9 240.0 27.5 C265.8 28.1 292.5 29.3 320.0 30.2 C349.1 31.1 392.3 32.1 410.0 33.0 C417.5 33.4 422.8 33.9 425.9 34.2 C427.1 34.3 427.6 34.4 428.5 34.5 C429.3 34.7 430.2 34.8 431.0 34.9 C431.9 35.1 432.7 35.2 433.5 35.4 C434.4 35.5 435.2 35.7 436.0 35.9 C436.9 36.1 437.7 36.2 438.5 36.4 C439.3 36.6 440.1 36.8 440.9 37.1 C441.8 37.3 442.6 37.5 443.3 37.7 C444.1 38.0 444.9 38.2 445.7 38.5 C446.5 38.7 447.3 39.0 448.0 39.3 C448.8 39.6 449.6 39.9 450.3 40.2 C451.1 40.5 451.8 40.8 452.5 41.1 C453.3 41.4 454.0 41.8 454.7 42.1 C455.5 42.5 456.2 42.9 456.9 43.2 C457.6 43.6 458.3 44.0 459.0 44.4 C459.7 44.8 460.3 45.2 461.0 45.7 C461.7 46.1 462.3 46.6 463.0 47.0 C463.6 47.5 464.3 48.0 464.9 48.5 C465.6 48.9 466.2 49.4 466.8 50.0 C467.4 50.5 468.0 51.0 468.6 51.5 C469.2 52.1 469.8 52.6 470.4 53.2 C471.0 53.8 471.6 54.3 472.2 54.9 C472.8 55.5 473.3 56.1 473.9 56.7 C474.5 57.3 475.0 57.9 475.6 58.5 C476.1 59.1 476.7 59.7 477.2 60.4 C477.7 61.0 478.3 61.6 478.8 62.3 C479.3 62.9 479.8 63.6 480.4 64.3 C480.9 64.9 481.4 65.6 481.9 66.3 C482.4 66.9 482.9 67.6 483.4 68.3 C483.9 69.0 484.4 69.7 484.9 70.3 C485.4 71.0 485.9 71.7 486.4 72.4 C486.9 73.1 487.3 73.8 487.8 74.5 C488.3 75.2 488.8 75.9 489.2 76.6 C489.7 77.3 490.2 78.0 490.7 78.7 C491.1 79.4 491.6 80.2 492.1 80.9 C492.5 81.6 493.0 82.3 493.4 83.0 C493.9 83.7 494.4 84.4 494.8 85.1 C495.3 85.8 495.7 86.6 496.2 87.3 C496.6 88.0 497.1 88.7 497.5 89.4 C498.0 90.1 498.4 90.9 498.9 91.6 C499.3 92.3 499.7 93.0 500.2 93.7 C500.6 94.5 501.0 95.2 501.5 95.9 C501.9 96.6 502.3 97.4 502.8 98.1 C503.2 98.8 503.6 99.5 504.1 100.3 C504.5 101.0 504.9 101.7 505.3 102.4 C505.8 103.2 506.2 103.9 506.6 104.6 C507.0 105.4 507.4 106.1 507.9 106.8 C508.3 107.6 508.7 108.3 509.1 109.0 C509.5 109.8 509.9 110.5 510.3 111.2 C510.7 112.0 511.1 112.7 511.6 113.4 C512.0 114.2 512.4 114.9 512.8 115.7 C513.2 116.4 513.6 117.1 514.0 117.9 C514.4 118.6 514.8 119.4 515.2 120.1 C515.6 120.8 516.0 121.6 516.3 122.3 C516.7 123.1 517.1 123.8 517.5 124.6 C517.9 125.3 518.3 126.0 518.7 126.8 C519.1 127.5 519.5 128.3 519.8 129.0 C520.2 129.8 520.6 130.5 521.0 131.3 C521.4 132.0 521.8 132.8 522.1 133.5 C522.5 134.3 522.9 135.0 523.3 135.8 C523.7 136.5 524.0 137.3 524.4 138.0 C524.8 138.8 525.2 139.5 525.5 140.3 C525.9 141.0 526.3 141.8 526.7 142.5 C527.0 143.3 527.4 144.0 527.8 144.8 C528.1 145.6 528.5 146.3 528.9 147.1 C529.2 147.8 529.6 148.6 530.0 149.3 C530.3 150.1 530.7 150.9 531.1 151.6 C531.4 152.4 531.8 153.1 532.2 153.9 C532.5 154.6 532.9 155.4 533.3 156.2 C533.6 156.9 534.0 157.7 534.3 158.4 C534.7 159.2 535.1 160.0 535.4 160.7 C535.8 161.5 536.1 162.2 536.5 163.0 C536.9 163.8 537.2 164.5 537.6 165.3 C537.9 166.0 538.3 166.8 538.6 167.6 C539.0 168.3 539.3 169.1 539.7 169.8 C540.1 170.6 540.4 171.4 540.8 172.1 C541.1 172.9 541.5 173.7 541.8 174.4 C542.2 175.2 542.5 176.0 542.9 176.7 C543.2 177.5 543.6 178.2 543.9 179.0 C544.3 179.8 544.6 180.5 545.0 181.3 C545.3 182.1 545.7 182.8 546.0 183.6 C546.4 184.4 546.8 185.1 547.1 185.9 C547.5 186.6 547.8 187.4 548.2 188.2 C548.5 188.9 548.9 189.7 549.2 190.5 C549.6 191.2 549.9 192.0 550.3 192.8 C550.6 193.5 551.0 194.3 551.3 195.1 C551.7 195.8 552.0 196.6 552.4 197.3 C552.7 198.1 553.1 198.9 553.4 199.6 C553.8 200.4 554.1 201.2 554.5 201.9 C554.8 202.7 555.2 203.5 555.5 204.2 C555.9 205.0 556.2 205.8 556.6 206.5 C556.9 207.3 557.3 208.0 557.6 208.8 C558.0 209.6 558.4 210.3 558.7 211.1 C559.1 211.9 559.4 212.6 559.8 213.4 C560.1 214.1 560.5 214.9 560.8 215.7 C561.2 216.4 561.6 217.2 561.9 218.0 C562.3 218.7 562.6 219.5 563.0 220.2 C563.3 221.0 563.7 221.8 564.1 222.5 C564.4 223.3 564.8 224.0 565.1 224.8 C565.5 225.6 565.9 226.3 566.2 227.1 C566.6 227.8 567.0 228.6 567.3 229.4 C567.7 230.1 568.0 230.9 568.4 231.6 C568.8 232.4 569.1 233.1 569.5 233.9 C569.9 234.7 570.2 235.4 570.6 236.2 C571.0 236.9 571.4 237.7 571.7 238.4 C572.1 239.2 572.5 239.9 572.8 240.7 C573.2 241.5 573.6 242.2 574.0 243.0 C574.3 243.7 574.7 244.5 575.1 245.2 C575.5 246.0 575.8 246.7 576.2 247.5 C576.6 248.2 577.0 249.0 577.4 249.7 C577.7 250.5 578.1 251.2 578.5 252.0 C578.9 252.7 579.3 253.5 579.7 254.2 C580.1 255.0 580.4 255.7 580.8 256.5 C581.2 257.2 581.6 257.9 582.0 258.7 C582.4 259.4 582.8 260.2 583.2 260.9 C583.6 261.7 584.0 262.4 584.4 263.1 C584.8 263.9 585.2 264.6 585.6 265.4 C586.0 266.1 586.4 266.8 586.8 267.6 C587.2 268.3 587.6 269.0 588.0 269.8 C588.4 270.5 588.8 271.2 589.2 272.0 C589.6 272.7 590.0 273.4 590.5 274.2 C590.9 274.9 591.3 275.6 591.7 276.4 C592.1 277.1 592.5 277.8 593.0 278.5 C593.4 279.3 593.8 280.0 594.2 280.7 C594.7 281.4 595.1 282.2 595.5 282.9 C595.9 283.6 596.4 284.3 596.8 285.0 C597.2 285.8 597.7 286.5 598.1 287.2 C598.5 287.9 599.0 288.6 599.4 289.3 C599.9 290.0 600.3 290.8 600.7 291.5 C601.2 292.2 601.6 292.9 602.1 293.6 C602.5 294.3 603.0 295.0 603.4 295.7 C603.9 296.4 604.3 297.1 604.8 297.8 C605.2 298.5 605.7 299.2 606.2 299.9 C606.6 300.6 607.1 301.3 607.6 302.0 C608.0 302.7 608.5 303.4 609.0 304.1 C609.4 304.8 609.9 305.5 610.4 306.2 C610.8 306.8 611.3 307.5 611.8 308.2 C612.3 308.9 612.8 309.6 613.2 310.3 C613.7 311.0 614.2 311.6 614.7 312.3 C615.2 313.0 615.7 313.7 616.2 314.3 C616.7 315.0 617.2 315.7 617.7 316.4 C618.2 317.0 618.7 317.7 619.2 318.4 C619.7 319.0 620.2 319.7 620.7 320.4 C621.2 321.0 621.5 321.5 622.2 322.3 C623.7 324.2 626.5 327.7 629.0 330.7 C632.0 334.2 635.6 339.0 639.0 341.9 C641.7 344.3 644.2 346.0 647.3 347.5 C650.6 349.1 654.8 351.0 658.5 351.0 C662.3 351.0 666.2 349.5 669.8 347.5 C673.8 345.3 677.9 341.5 681.0 337.7 C684.1 334.0 686.2 328.7 688.6 325.0 C690.5 322.0 691.9 318.8 694.0 317.0 C695.8 315.6 697.8 314.8 700.0 314.5 C702.4 314.2 705.6 314.3 708.0 315.5 C710.7 316.8 712.8 320.3 715.2 322.5 C717.5 324.6 719.8 327.0 722.3 328.5 C724.6 329.9 727.3 331.4 729.4 331.6 C730.9 331.7 732.0 331.5 733.4 330.6 C736.0 329.0 739.0 323.6 742.3 320.0 C746.1 315.8 750.0 310.9 755.0 307.0 C760.7 302.7 771.3 297.9 775.0 295.8 C776.4 294.9 777.0 294.6 778.0 294.0 C779.0 293.4 780.0 292.8 781.0 292.2 C782.0 291.7 783.0 291.1 784.0 290.6 C785.0 290.0 786.0 289.5 787.0 289.0 C788.0 288.4 789.0 287.9 790.0 287.4 C791.0 286.9 792.0 286.3 793.0 285.8 C794.0 285.3 795.0 284.8 796.0 284.3 C797.0 283.8 798.0 283.3 799.0 282.9 C800.0 282.4 801.0 281.9 802.0 281.4 C803.0 280.9 804.0 280.5 805.0 280.0 C806.0 279.5 807.0 279.1 808.0 278.6 C809.0 278.1 810.0 277.7 811.0 277.2 C812.0 276.7 813.0 276.3 814.0 275.8 C815.0 275.4 816.0 274.9 817.0 274.5 C818.0 274.0 819.0 273.5 820.0 273.1 C821.0 272.6 822.0 272.2 823.0 271.7 C824.0 271.3 825.0 270.8 826.0 270.3 C827.0 269.9 828.0 269.4 829.0 269.0 C830.0 268.5 831.0 268.0 832.0 267.6 C833.0 267.1 834.0 266.6 835.0 266.2 C836.0 265.7 837.0 265.2 838.0 264.7 C839.0 264.2 840.0 263.7 841.0 263.3 C842.0 262.8 843.0 262.3 844.0 261.8 C845.0 261.3 846.0 260.7 847.0 260.2 C848.0 259.7 849.0 259.2 850.0 258.7 C851.0 258.1 852.0 257.6 853.0 257.1 C854.0 256.5 855.0 256.0 856.0 255.4 C857.0 254.9 858.0 254.3 859.0 253.7 C860.0 253.2 861.0 252.6 862.0 252.0 C863.0 251.4 864.0 250.8 865.0 250.2 C866.0 249.6 867.0 249.0 868.0 248.4 C869.0 247.8 870.0 247.2 871.0 246.6 C872.0 246.0 873.0 245.3 874.0 244.7 C875.0 244.1 876.0 243.4 877.0 242.8 C878.0 242.2 879.0 241.5 880.0 240.9 C881.0 240.2 882.0 239.6 883.0 238.9 C884.0 238.2 885.0 237.6 886.0 236.9 C887.0 236.2 888.0 235.5 889.0 234.9 C890.0 234.2 891.0 233.5 892.0 232.8 C893.0 232.1 894.0 231.4 895.0 230.7 C896.0 230.0 897.0 229.3 898.0 228.6 C899.0 227.9 900.0 227.2 901.0 226.5 C902.0 225.8 903.0 225.1 904.0 224.3 C905.0 223.6 906.0 222.9 907.0 222.2 C908.0 221.4 909.0 220.7 910.0 220.0 C911.0 219.2 912.0 218.5 913.0 217.7 C914.0 217.0 915.0 216.2 916.0 215.5 C917.0 214.7 918.0 214.0 919.0 213.2 C920.0 212.5 921.0 211.7 922.0 211.0 C923.0 210.2 924.0 209.4 925.0 208.7 C926.0 207.9 927.0 207.2 928.0 206.4 C929.0 205.6 930.0 204.8 931.0 204.1 C932.0 203.3 933.0 202.5 934.0 201.7 C935.0 201.0 936.0 200.2 937.0 199.4 C938.0 198.6 939.0 197.8 940.0 197.1 C941.0 196.3 942.0 195.5 943.0 194.7 C944.0 193.9 945.0 193.1 946.0 192.4 C947.0 191.6 948.0 190.8 949.0 190.0 C950.0 189.2 951.0 188.4 952.0 187.6 C953.0 186.8 954.0 186.0 955.0 185.2 C956.0 184.4 957.0 183.7 958.0 182.9"/><path d="M117.6 19.8 C131.7 21.2 143.6 23.0 160.0 24.0 C182.4 25.3 213.3 24.7 240.0 25.5 C266.7 26.3 292.5 27.8 320.0 28.8 C349.1 29.9 382.8 30.9 410.0 31.8 C432.5 32.6 465.0 33.2 471.8 34.0 C473.1 34.2 473.4 34.4 474.2 34.5 C475.0 34.7 475.8 34.9 476.6 35.1 C477.4 35.3 478.1 35.5 478.9 35.7 C479.7 35.9 480.5 36.1 481.3 36.3 C482.0 36.5 482.8 36.7 483.6 37.0 C484.3 37.2 485.1 37.5 485.8 37.7 C486.6 38.0 487.3 38.2 488.1 38.5 C488.8 38.8 489.6 39.0 490.3 39.3 C491.0 39.6 491.8 39.9 492.5 40.2 C493.2 40.5 493.9 40.9 494.7 41.2 C495.4 41.5 496.1 41.9 496.8 42.2 C497.5 42.5 498.2 42.9 498.9 43.3 C499.6 43.6 500.3 44.0 500.9 44.4 C501.6 44.8 502.3 45.2 503.0 45.6 C503.6 46.0 504.3 46.4 504.9 46.9 C505.6 47.3 506.3 47.8 506.9 48.2 C507.5 48.7 508.2 49.1 508.8 49.6 C509.4 50.1 510.1 50.6 510.7 51.1 C511.3 51.6 511.9 52.1 512.5 52.6 C513.1 53.2 513.7 53.7 514.3 54.2 C514.9 54.8 515.5 55.3 516.1 55.9 C516.7 56.5 517.3 57.0 517.8 57.6 C518.4 58.2 518.9 58.8 519.5 59.4 C520.1 60.0 520.6 60.6 521.2 61.3 C521.7 61.9 522.2 62.5 522.8 63.1 C523.3 63.8 523.8 64.4 524.3 65.1 C524.9 65.7 525.4 66.4 525.9 67.1 C526.4 67.7 526.9 68.4 527.4 69.1 C527.9 69.8 528.3 70.4 528.8 71.1 C529.3 71.8 529.8 72.5 530.3 73.2 C530.7 73.9 531.2 74.6 531.7 75.3 C532.1 76.1 532.6 76.8 533.0 77.5 C533.5 78.2 533.9 79.0 534.4 79.7 C534.8 80.4 535.3 81.2 535.7 81.9 C536.1 82.6 536.6 83.4 537.0 84.1 C537.4 84.9 537.8 85.6 538.3 86.4 C538.7 87.1 539.1 87.9 539.5 88.6 C540.0 89.4 540.4 90.1 540.8 90.9 C541.2 91.7 541.6 92.4 542.0 93.2 C542.4 93.9 542.9 94.7 543.3 95.5 C543.7 96.2 544.1 97.0 544.5 97.7 C544.9 98.5 545.3 99.3 545.7 100.0 C546.1 100.8 546.5 101.6 546.9 102.3 C547.3 103.1 547.8 103.8 548.2 104.6 C548.6 105.4 549.0 106.1 549.4 106.9 C549.8 107.6 550.2 108.4 550.6 109.2 C551.0 109.9 551.4 110.7 551.8 111.4 C552.2 112.2 552.6 113.0 553.0 113.7 C553.4 114.5 553.9 115.2 554.3 116.0 C554.7 116.7 555.1 117.5 555.5 118.2 C555.9 119.0 556.3 119.7 556.7 120.5 C557.1 121.2 557.5 122.0 557.9 122.8 C558.3 123.5 558.7 124.3 559.1 125.0 C559.5 125.8 559.9 126.5 560.3 127.3 C560.8 128.0 561.2 128.8 561.6 129.5 C562.0 130.2 562.4 131.0 562.8 131.7 C563.2 132.5 563.6 133.2 564.0 134.0 C564.4 134.7 564.8 135.5 565.2 136.2 C565.6 137.0 566.0 137.7 566.4 138.5 C566.9 139.2 567.3 139.9 567.7 140.7 C568.1 141.4 568.5 142.2 568.9 142.9 C569.3 143.7 569.7 144.4 570.1 145.1 C570.5 145.9 570.9 146.6 571.3 147.4 C571.7 148.1 572.1 148.8 572.6 149.6 C573.0 150.3 573.4 151.0 573.8 151.8 C574.2 152.5 574.6 153.3 575.0 154.0 C575.4 154.7 575.8 155.5 576.2 156.2 C576.6 156.9 577.0 157.7 577.5 158.4 C577.9 159.1 578.3 159.9 578.7 160.6 C579.1 161.3 579.5 162.1 579.9 162.8 C580.3 163.5 580.7 164.3 581.1 165.0 C581.6 165.7 582.0 166.5 582.4 167.2 C582.8 167.9 583.2 168.7 583.6 169.4 C584.0 170.1 584.4 170.9 584.8 171.6 C585.3 172.3 585.7 173.0 586.1 173.8 C586.5 174.5 586.9 175.2 587.3 176.0 C587.7 176.7 588.2 177.4 588.6 178.1 C589.0 178.9 589.4 179.6 589.8 180.3 C590.2 181.0 590.6 181.8 591.1 182.5 C591.5 183.2 591.9 183.9 592.3 184.7 C592.7 185.4 593.1 186.1 593.5 186.8 C594.0 187.6 594.4 188.3 594.8 189.0 C595.2 189.7 595.6 190.4 596.1 191.2 C596.5 191.9 596.9 192.6 597.3 193.3 C597.7 194.0 598.1 194.8 598.6 195.5 C599.0 196.2 599.4 196.9 599.8 197.6 C600.2 198.4 600.7 199.1 601.1 199.8 C601.5 200.5 601.9 201.2 602.4 202.0 C602.8 202.7 603.2 203.4 603.6 204.1 C604.1 204.8 604.5 205.5 604.9 206.3 C605.3 207.0 605.7 207.7 606.2 208.4 C606.6 209.1 607.0 209.8 607.5 210.5 C607.9 211.3 608.3 212.0 608.7 212.7 C609.2 213.4 609.6 214.1 610.0 214.8 C610.4 215.5 610.9 216.3 611.3 217.0 C611.7 217.7 612.2 218.4 612.6 219.1 C613.0 219.8 613.5 220.5 613.9 221.2 C614.3 221.9 614.8 222.7 615.2 223.4 C615.6 224.1 616.1 224.8 616.5 225.5 C616.9 226.2 617.4 226.9 617.8 227.6 C618.2 228.3 618.7 229.0 619.1 229.7 C619.5 230.5 620.0 231.2 620.4 231.9 C620.8 232.6 621.3 233.3 621.7 234.0 C622.2 234.7 622.6 235.4 623.0 236.1 C623.5 236.8 623.9 237.5 624.4 238.2 C624.8 238.9 625.3 239.6 625.7 240.3 C626.1 241.0 626.6 241.8 627.0 242.5 C627.5 243.2 627.9 243.9 628.4 244.6 C628.8 245.3 629.3 246.0 629.7 246.7 C630.2 247.4 630.6 248.1 631.1 248.8 C631.5 249.5 632.0 250.2 632.4 250.9 C632.9 251.6 633.3 252.3 633.8 253.0 C634.2 253.7 634.7 254.4 635.1 255.1 C635.6 255.8 636.0 256.5 636.5 257.2 C636.9 257.9 637.4 258.6 637.8 259.3 C638.3 260.0 638.8 260.7 639.2 261.4 C639.7 262.1 640.1 262.8 640.6 263.5 C641.1 264.2 641.5 264.9 642.0 265.6 C642.4 266.3 642.9 267.0 643.4 267.7 C643.8 268.4 644.3 269.1 644.8 269.8 C645.2 270.5 645.7 271.2 646.2 271.9 C646.6 272.6 647.1 273.3 647.6 274.0 C648.0 274.7 648.5 275.4 649.0 276.0 C649.4 276.7 649.9 277.4 650.4 278.1 C650.9 278.8 651.3 279.5 651.8 280.2 C652.3 280.9 652.7 281.6 653.2 282.3 C653.7 283.0 654.2 283.7 654.7 284.4 C655.1 285.1 655.6 285.8 656.1 286.5 C656.6 287.2 657.1 287.9 657.5 288.6 C658.0 289.2 658.5 289.9 659.0 290.6 C659.5 291.3 660.0 292.0 660.4 292.7 C660.9 293.4 661.4 294.1 661.9 294.8 C662.4 295.5 662.9 296.2 663.4 296.9 C663.9 297.6 664.2 298.1 664.8 298.9 C665.9 300.3 667.7 302.7 669.0 304.5 C670.2 306.2 671.1 308.1 672.5 309.6 C673.9 311.2 675.9 312.4 677.4 313.8 C678.9 315.2 680.2 316.8 681.6 318.0 C682.8 319.1 683.8 320.1 685.1 320.8 C686.5 321.5 688.3 321.2 690.0 322.2 C692.4 323.7 694.9 328.0 697.6 330.0 C699.9 331.7 702.2 332.6 704.7 333.7 C707.3 334.8 710.1 336.2 712.8 336.7 C715.5 337.2 718.1 337.1 720.9 336.7 C723.9 336.3 727.3 335.5 730.0 334.2 C732.5 333.0 734.2 330.5 736.5 329.6 C738.7 328.7 741.0 328.7 743.5 328.5 C746.3 328.3 750.3 327.5 752.7 328.5 C754.8 329.4 756.0 331.5 757.5 333.3 C759.2 335.4 760.7 337.5 762.5 340.5 C765.3 345.1 768.9 352.6 772.0 358.7 C775.1 364.9 778.7 371.4 781.2 377.4 C783.3 382.6 784.6 387.1 786.2 392.3 C787.9 397.9 789.5 404.0 791.1 409.7 C792.7 415.4 794.1 420.9 796.0 426.5 C798.0 432.2 800.7 437.9 802.8 443.6 C804.9 449.3 806.6 456.3 808.8 460.8 C810.4 464.0 812.3 468.5 814.0 468.5 C815.7 468.5 817.5 464.0 819.0 460.8 C821.1 456.3 822.8 449.4 824.2 443.6 C825.6 437.9 826.3 432.6 827.6 426.5 C829.1 419.5 830.9 411.1 832.8 404.2 C834.5 398.1 836.5 392.4 838.5 387.0 C840.3 382.2 842.1 377.8 844.0 373.4 C845.8 369.2 847.7 365.0 849.5 361.0 C851.2 357.2 852.8 353.8 854.5 350.0 C856.4 345.8 858.6 340.6 860.5 337.0 C861.9 334.3 863.0 332.8 864.7 330.0 C867.2 325.9 870.6 319.2 874.0 314.9 C876.9 311.2 880.2 308.5 883.4 305.5 C886.5 302.6 889.5 299.6 892.7 297.1 C895.7 294.7 899.0 292.6 902.0 290.6 C904.6 288.9 907.3 287.3 909.5 285.9 C911.2 284.8 912.4 283.9 914.2 283.1 C916.4 282.2 919.0 281.5 922.0 281.0 C925.8 280.4 930.0 280.2 935.0 280.0 C941.6 279.7 950.3 280.0 958.0 280.0"/><path d="M117.6 19.8 C128.4 20.5 136.5 21.5 150.0 22.0 C172.5 22.9 210.9 22.1 240.0 23.0 C267.5 23.8 292.5 25.7 320.0 27.0 C349.1 28.4 381.9 30.0 410.0 31.0 C434.8 31.9 460.5 32.2 480.0 33.0 C494.0 33.6 511.1 34.4 516.1 35.0 C517.4 35.2 517.7 35.3 518.5 35.5 C519.3 35.7 520.1 35.8 520.9 36.0 C521.7 36.2 522.5 36.4 523.3 36.6 C524.1 36.8 524.9 37.0 525.7 37.2 C526.5 37.4 527.2 37.7 528.0 37.9 C528.8 38.1 529.5 38.4 530.3 38.7 C531.1 38.9 531.8 39.2 532.6 39.5 C533.3 39.8 534.0 40.1 534.8 40.4 C535.5 40.7 536.2 41.0 536.9 41.3 C537.7 41.7 538.4 42.0 539.1 42.4 C539.8 42.8 540.5 43.1 541.2 43.5 C541.9 43.9 542.5 44.3 543.2 44.7 C543.9 45.1 544.6 45.6 545.2 46.0 C545.9 46.4 546.5 46.9 547.2 47.4 C547.8 47.8 548.5 48.3 549.1 48.8 C549.7 49.3 550.3 49.8 551.0 50.3 C551.6 50.8 552.2 51.3 552.8 51.9 C553.4 52.4 554.0 53.0 554.6 53.5 C555.2 54.1 555.8 54.6 556.3 55.2 C556.9 55.8 557.5 56.4 558.1 57.0 C558.6 57.5 559.2 58.1 559.8 58.7 C560.3 59.4 560.9 60.0 561.4 60.6 C562.0 61.2 562.5 61.8 563.1 62.4 C563.6 63.1 564.2 63.7 564.7 64.3 C565.2 65.0 565.8 65.6 566.3 66.3 C566.8 66.9 567.4 67.6 567.9 68.2 C568.4 68.9 568.9 69.5 569.5 70.2 C570.0 70.8 570.5 71.5 571.0 72.2 C571.5 72.8 572.0 73.5 572.5 74.2 C573.1 74.8 573.6 75.5 574.1 76.2 C574.6 76.8 575.1 77.5 575.6 78.2 C576.1 78.8 576.6 79.5 577.1 80.2 C577.6 80.8 578.1 81.5 578.6 82.2 C579.1 82.9 579.6 83.6 580.1 84.2 C580.5 84.9 581.0 85.6 581.5 86.3 C582.0 87.0 582.5 87.6 583.0 88.3 C583.5 89.0 583.9 89.7 584.4 90.4 C584.9 91.1 585.4 91.8 585.9 92.4 C586.3 93.1 586.8 93.8 587.3 94.5 C587.8 95.2 588.2 95.9 588.7 96.6 C589.2 97.3 589.6 98.0 590.1 98.7 C590.6 99.4 591.0 100.1 591.5 100.8 C592.0 101.5 592.4 102.2 592.9 102.9 C593.3 103.6 593.8 104.3 594.3 105.0 C594.7 105.7 595.2 106.4 595.6 107.1 C596.1 107.8 596.5 108.5 597.0 109.2 C597.4 110.0 597.9 110.7 598.3 111.4 C598.8 112.1 599.2 112.8 599.7 113.5 C600.1 114.2 600.6 114.9 601.0 115.7 C601.4 116.4 601.9 117.1 602.3 117.8 C602.8 118.5 603.2 119.2 603.7 119.9 C604.1 120.7 604.5 121.4 605.0 122.1 C605.4 122.8 605.8 123.5 606.3 124.3 C606.7 125.0 607.1 125.7 607.6 126.4 C608.0 127.2 608.4 127.9 608.9 128.6 C609.3 129.3 609.7 130.1 610.2 130.8 C610.6 131.5 611.0 132.2 611.4 133.0 C611.9 133.7 612.3 134.4 612.7 135.1 C613.2 135.9 613.6 136.6 614.0 137.3 C614.4 138.1 614.8 138.8 615.3 139.5 C615.7 140.3 616.1 141.0 616.5 141.7 C617.0 142.4 617.4 143.2 617.8 143.9 C618.2 144.6 618.6 145.4 619.1 146.1 C619.5 146.8 619.9 147.6 620.3 148.3 C620.7 149.0 621.1 149.8 621.6 150.5 C622.0 151.3 622.4 152.0 622.8 152.7 C623.2 153.5 623.6 154.2 624.1 154.9 C624.5 155.7 624.9 156.4 625.3 157.1 C625.7 157.9 626.1 158.6 626.5 159.4 C627.0 160.1 627.4 160.8 627.8 161.6 C628.2 162.3 628.6 163.1 629.0 163.8 C629.4 164.5 629.8 165.3 630.3 166.0 C630.7 166.7 631.1 167.5 631.5 168.2 C631.9 169.0 632.3 169.7 632.7 170.4 C633.1 171.2 633.5 171.9 634.0 172.7 C634.4 173.4 634.8 174.1 635.2 174.9 C635.6 175.6 636.0 176.4 636.4 177.1 C636.8 177.8 637.2 178.6 637.7 179.3 C638.1 180.1 638.5 180.8 638.9 181.5 C639.3 182.3 639.7 183.0 640.1 183.8 C640.5 184.5 641.0 185.2 641.4 186.0 C641.8 186.7 642.2 187.4 642.6 188.2 C643.0 188.9 643.4 189.7 643.8 190.4 C644.3 191.1 644.7 191.9 645.1 192.6 C645.5 193.3 645.9 194.1 646.3 194.8 C646.7 195.6 647.2 196.3 647.6 197.0 C648.0 197.8 648.4 198.5 648.8 199.2 C649.2 200.0 649.7 200.7 650.1 201.4 C650.5 202.2 650.9 202.9 651.3 203.6 C651.8 204.4 652.2 205.1 652.6 205.8 C653.0 206.6 653.4 207.3 653.9 208.0 C654.3 208.8 654.7 209.5 655.1 210.2 C655.5 211.0 656.0 211.7 656.4 212.4 C656.8 213.2 657.2 213.9 657.7 214.6 C658.1 215.3 658.5 216.1 659.0 216.8 C659.4 217.5 659.8 218.3 660.2 219.0 C660.7 219.7 661.1 220.4 661.5 221.2 C662.0 221.9 662.4 222.6 662.8 223.3 C663.3 224.0 663.7 224.8 664.1 225.5 C664.6 226.2 665.0 226.9 665.4 227.7 C665.9 228.4 666.3 229.1 666.8 229.8 C667.2 230.5 667.6 231.2 668.1 232.0 C668.5 232.7 669.0 233.4 669.4 234.1 C669.9 234.8 670.3 235.5 670.8 236.3 C671.2 237.0 671.7 237.7 672.1 238.4 C672.6 239.1 673.0 239.8 673.5 240.5 C673.9 241.2 674.4 241.9 674.8 242.6 C675.3 243.3 675.7 244.1 676.2 244.8 C676.6 245.5 677.1 246.2 677.6 246.9 C678.0 247.6 678.5 248.3 679.0 249.0 C679.4 249.7 679.9 250.4 680.4 251.1 C680.8 251.8 681.3 252.5 681.8 253.2 C682.2 253.9 682.7 254.6 683.2 255.2 C683.7 255.9 684.1 256.6 684.6 257.3 C685.1 258.0 685.6 258.7 686.0 259.4 C686.5 260.1 687.0 260.8 687.5 261.4 C688.0 262.1 688.5 262.8 689.0 263.5 C689.4 264.2 689.9 264.9 690.4 265.5 C690.9 266.2 691.4 266.9 691.9 267.6 C692.4 268.3 692.9 268.9 693.4 269.6 C693.9 270.3 694.4 271.0 694.9 271.7 C695.4 272.3 695.9 273.0 696.4 273.7 C696.9 274.4 697.4 275.0 697.9 275.7 C698.4 276.4 698.9 277.0 699.4 277.7 C699.9 278.4 700.4 279.1 700.9 279.7 C701.4 280.4 701.9 281.1 702.4 281.7 C702.9 282.4 703.4 283.1 703.9 283.7 C704.5 284.4 705.0 285.1 705.5 285.7 C706.0 286.4 706.5 287.0 707.0 287.7 C707.5 288.4 708.0 289.0 708.6 289.7 C709.1 290.4 709.6 291.0 710.1 291.7 C710.6 292.3 711.1 293.0 711.7 293.7 C712.2 294.3 712.7 295.0 713.2 295.6 C713.7 296.3 714.3 297.0 714.8 297.6 C715.3 298.3 715.8 298.9 716.4 299.6 C716.9 300.3 717.4 300.9 717.9 301.6 C718.4 302.2 719.0 302.9 719.5 303.5 C720.0 304.2 720.5 304.8 721.1 305.5 C721.6 306.2 722.1 306.8 722.6 307.5 C723.2 308.1 723.7 308.8 724.2 309.4 C724.7 310.1 725.3 310.7 725.8 311.4 C726.3 312.1 726.9 312.7 727.4 313.4 C727.9 314.0 728.4 314.7 729.0 315.3 C729.5 316.0 730.0 316.6 730.5 317.3 C731.1 317.9 731.6 318.6 732.1 319.3 C732.6 319.9 733.2 320.6 733.7 321.2 C734.2 321.9 734.8 322.5 735.3 323.2 C735.8 323.8 736.3 324.5 736.9 325.1 C737.4 325.8 737.9 326.5 738.4 327.1 C739.0 327.8 739.5 328.4 740.0 329.1 C740.5 329.7 741.1 330.4 741.6 331.1 C742.1 331.7 742.6 332.4 743.2 333.0 C743.7 333.7 744.2 334.3 744.7 335.0 C745.3 335.7 745.8 336.3 746.3 337.0 C746.8 337.6 747.4 338.3 747.9 338.9 C748.4 339.6 748.9 340.3 749.4 340.9 C750.0 341.6 750.5 342.3 751.0 342.9 C751.5 343.6 752.0 344.2 752.5 344.9 C753.1 345.6 753.6 346.2 754.1 346.9 C754.6 347.6 755.1 348.2 755.6 348.9 C756.2 349.5 756.7 350.2 757.2 350.9 C757.7 351.5 758.2 352.2 758.7 352.9 C759.2 353.6 759.7 354.2 760.2 354.9 C760.7 355.6 761.3 356.2 761.8 356.9 C762.3 357.6 762.8 358.2 763.3 358.9 C763.8 359.6 764.3 360.3 764.8 360.9 C765.3 361.6 765.8 362.3 766.3 363.0 C766.8 363.6 767.3 364.3 767.8 365.0 C768.3 365.7 768.8 366.4 769.3 367.0 C769.8 367.7 770.3 368.4 770.8 369.1 C771.2 369.8 771.7 370.4 772.2 371.1 C772.7 371.8 773.2 372.5 773.7 373.2 C774.2 373.9 774.7 374.6 775.1 375.3 C775.6 375.9 776.1 376.6 776.6 377.3 C777.1 378.0 777.5 378.5 778.0 379.4 C779.0 381.0 780.6 384.3 781.8 386.0 C782.7 387.3 783.7 389.2 784.5 389.0 C785.6 388.8 786.2 384.0 787.0 381.0 C788.0 377.3 788.6 372.8 789.9 368.6 C791.2 364.1 793.2 359.4 794.9 355.0 C796.5 350.7 797.9 347.3 799.9 342.5 C802.7 335.8 807.8 323.4 810.4 318.7 C811.6 316.6 812.4 315.8 813.4 314.4 C814.4 313.1 815.4 311.8 816.4 310.6 C817.4 309.5 818.4 308.4 819.4 307.3 C820.4 306.2 821.4 305.2 822.4 304.2 C823.4 303.2 824.4 302.2 825.4 301.3 C826.4 300.3 827.4 299.4 828.4 298.5 C829.4 297.7 830.4 296.8 831.4 296.0 C832.4 295.2 833.4 294.4 834.4 293.6 C835.4 292.8 836.4 292.1 837.4 291.3 C838.4 290.6 839.4 289.9 840.4 289.2 C841.4 288.5 842.4 287.8 843.4 287.1 C844.4 286.5 845.4 285.8 846.4 285.2 C847.4 284.6 848.4 284.0 849.4 283.3 C850.4 282.7 851.4 282.1 852.4 281.5 C853.4 281.0 854.4 280.4 855.4 279.8 C856.4 279.2 857.4 278.7 858.4 278.1 C859.4 277.5 860.4 277.0 861.4 276.4 C862.4 275.8 863.4 275.3 864.4 274.7 C865.4 274.1 866.4 273.6 867.4 273.0 C868.4 272.4 869.4 271.8 870.4 271.3 C871.4 270.7 872.4 270.1 873.4 269.5 C874.4 268.9 875.4 268.3 876.4 267.7 C877.4 267.0 878.4 266.4 879.4 265.8 C880.4 265.2 881.4 264.5 882.4 263.9 C883.4 263.2 884.4 262.6 885.4 261.9 C886.4 261.3 887.4 260.6 888.4 259.9 C889.4 259.3 890.4 258.6 891.4 257.9 C892.4 257.2 893.4 256.6 894.4 255.9 C895.4 255.2 896.4 254.5 897.4 253.8 C898.4 253.1 899.4 252.4 900.4 251.7 C901.4 251.0 902.4 250.3 903.4 249.5 C904.4 248.8 905.4 248.1 906.4 247.4 C907.4 246.7 908.4 245.9 909.4 245.2 C910.4 244.5 911.4 243.8 912.4 243.0 C913.4 242.3 914.4 241.6 915.4 240.8 C916.4 240.1 917.4 239.4 918.4 238.6 C919.4 237.9 920.4 237.2 921.4 236.4 C922.4 235.7 923.4 235.0 924.4 234.2 C925.4 233.5 926.4 232.7 927.4 232.0 C928.4 231.3 929.4 230.5 930.4 229.8 C931.4 229.0 932.4 228.3 933.4 227.6 C934.4 226.8 935.4 226.1 936.4 225.4 C937.4 224.7 938.4 223.9 939.4 223.2 C940.4 222.5 941.4 221.7 942.4 221.0 C943.4 220.3 944.4 219.6 945.4 218.9 C946.4 218.1 947.4 217.4 948.4 216.7 C949.4 216.0 950.4 215.3 951.4 214.6 C952.4 213.9 953.4 213.2 954.4 212.5 C955.4 211.8 956.8 210.9 957.4 210.5 C957.7 210.3 957.8 210.2 958.0 210.1"/><path d="M117.6 19.8 C158.4 19.9 221.9 18.9 240.0 20.0 C245.2 20.3 245.4 20.9 250.0 21.2 C260.0 21.9 285.5 21.7 298.0 22.5 C306.1 23.0 312.2 24.0 318.0 24.6 C322.5 25.1 324.9 25.5 330.0 26.0 C338.6 26.8 352.6 28.1 365.0 28.8 C379.0 29.6 392.9 29.8 410.0 30.2 C432.9 30.7 470.8 30.6 490.0 31.2 C500.8 31.5 506.0 32.1 515.2 32.5 C526.3 33.0 546.9 33.8 552.0 34.2 C553.3 34.3 553.7 34.4 554.5 34.5 C555.3 34.6 556.2 34.7 557.0 34.9 C557.8 35.0 558.7 35.1 559.5 35.3 C560.3 35.4 561.1 35.6 561.9 35.7 C562.8 35.9 563.6 36.1 564.4 36.3 C565.2 36.4 566.0 36.6 566.8 36.8 C567.6 37.0 568.3 37.2 569.1 37.4 C569.9 37.7 570.7 37.9 571.5 38.1 C572.2 38.4 573.0 38.6 573.8 38.9 C574.5 39.2 575.3 39.4 576.0 39.7 C576.8 40.0 577.5 40.3 578.2 40.6 C579.0 40.9 579.7 41.2 580.4 41.6 C581.1 41.9 581.8 42.3 582.5 42.6 C583.2 43.0 583.9 43.3 584.6 43.7 C585.3 44.1 586.0 44.5 586.6 44.9 C587.3 45.4 587.9 45.8 588.6 46.2 C589.2 46.7 589.9 47.1 590.5 47.6 C591.2 48.1 591.8 48.6 592.4 49.1 C593.0 49.6 593.6 50.1 594.2 50.6 C594.8 51.1 595.4 51.7 596.0 52.2 C596.6 52.8 597.2 53.3 597.8 53.9 C598.3 54.5 598.9 55.0 599.5 55.6 C600.0 56.2 600.6 56.8 601.1 57.4 C601.7 58.0 602.2 58.6 602.8 59.3 C603.3 59.9 603.8 60.5 604.4 61.2 C604.9 61.8 605.4 62.4 605.9 63.1 C606.4 63.8 607.0 64.4 607.5 65.1 C608.0 65.8 608.5 66.4 609.0 67.1 C609.5 67.8 610.0 68.5 610.5 69.2 C611.0 69.9 611.4 70.6 611.9 71.3 C612.4 72.0 612.9 72.7 613.4 73.4 C613.8 74.1 614.3 74.8 614.8 75.5 C615.3 76.2 615.7 77.0 616.2 77.7 C616.7 78.4 617.1 79.1 617.6 79.8 C618.0 80.6 618.5 81.3 619.0 82.0 C619.4 82.8 619.9 83.5 620.3 84.2 C620.8 84.9 621.2 85.7 621.7 86.4 C622.1 87.1 622.6 87.9 623.0 88.6 C623.5 89.3 623.9 90.0 624.4 90.8 C624.8 91.5 625.3 92.2 625.7 93.0 C626.2 93.7 626.6 94.4 627.0 95.2 C627.5 95.9 627.9 96.6 628.4 97.4 C628.8 98.1 629.2 98.8 629.7 99.6 C630.1 100.3 630.6 101.0 631.0 101.8 C631.4 102.5 631.9 103.2 632.3 104.0 C632.7 104.7 633.2 105.4 633.6 106.2 C634.0 106.9 634.4 107.6 634.9 108.4 C635.3 109.1 635.7 109.8 636.2 110.6 C636.6 111.3 637.0 112.0 637.4 112.8 C637.9 113.5 638.3 114.2 638.7 115.0 C639.1 115.7 639.5 116.4 640.0 117.2 C640.4 117.9 640.8 118.6 641.2 119.4 C641.6 120.1 642.1 120.8 642.5 121.6 C642.9 122.3 643.3 123.0 643.7 123.8 C644.1 124.5 644.6 125.2 645.0 126.0 C645.4 126.7 645.8 127.5 646.2 128.2 C646.6 128.9 647.0 129.7 647.5 130.4 C647.9 131.1 648.3 131.9 648.7 132.6 C649.1 133.3 649.5 134.1 649.9 134.8 C650.3 135.5 650.7 136.3 651.2 137.0 C651.6 137.7 652.0 138.5 652.4 139.2 C652.8 140.0 653.2 140.7 653.6 141.4 C654.0 142.2 654.4 142.9 654.8 143.6 C655.2 144.4 655.6 145.1 656.0 145.8 C656.4 146.6 656.9 147.3 657.3 148.0 C657.7 148.8 658.1 149.5 658.5 150.2 C658.9 151.0 659.3 151.7 659.7 152.4 C660.1 153.2 660.5 153.9 660.9 154.6 C661.3 155.4 661.7 156.1 662.1 156.8 C662.5 157.6 662.9 158.3 663.3 159.0 C663.7 159.8 664.1 160.5 664.5 161.2 C664.9 162.0 665.3 162.7 665.7 163.4 C666.1 164.2 666.5 164.9 667.0 165.6 C667.4 166.4 667.8 167.1 668.2 167.8 C668.6 168.6 669.0 169.3 669.4 170.0 C669.8 170.8 670.2 171.5 670.6 172.2 C671.0 173.0 671.4 173.7 671.8 174.4 C672.2 175.1 672.6 175.9 673.0 176.6 C673.4 177.3 673.8 178.1 674.2 178.8 C674.6 179.5 675.0 180.3 675.4 181.0 C675.8 181.7 676.2 182.4 676.6 183.2 C677.1 183.9 677.5 184.6 677.9 185.4 C678.3 186.1 678.7 186.8 679.1 187.5 C679.5 188.3 679.9 189.0 680.3 189.7 C680.7 190.4 681.1 191.2 681.5 191.9 C681.9 192.6 682.4 193.3 682.8 194.1 C683.2 194.8 683.6 195.5 684.0 196.2 C684.4 197.0 684.8 197.7 685.2 198.4 C685.6 199.1 686.1 199.8 686.5 200.6 C686.9 201.3 687.3 202.0 687.7 202.7 C688.1 203.5 688.5 204.2 689.0 204.9 C689.4 205.6 689.8 206.3 690.2 207.1 C690.6 207.8 691.1 208.5 691.5 209.2 C691.9 209.9 692.3 210.7 692.7 211.4 C693.2 212.1 693.6 212.8 694.0 213.5 C694.4 214.2 694.8 215.0 695.3 215.7 C695.7 216.4 696.1 217.1 696.5 217.8 C697.0 218.5 697.4 219.2 697.8 220.0 C698.3 220.7 698.7 221.4 699.1 222.1 C699.5 222.8 700.0 223.5 700.4 224.2 C700.8 224.9 701.3 225.6 701.7 226.4 C702.1 227.1 702.6 227.8 703.0 228.5 C703.4 229.2 703.9 229.9 704.3 230.6 C704.8 231.3 705.2 232.0 705.6 232.7 C706.1 233.4 706.5 234.1 707.0 234.8 C707.4 235.5 707.9 236.3 708.3 237.0 C708.8 237.7 709.2 238.4 709.6 239.1 C710.1 239.8 710.5 240.5 711.0 241.2 C711.5 241.9 711.9 242.6 712.4 243.3 C712.8 244.0 713.3 244.7 713.7 245.4 C714.2 246.1 714.6 246.8 715.1 247.5 C715.6 248.2 716.0 248.8 716.5 249.5 C717.0 250.2 717.4 250.9 717.9 251.6 C718.3 252.3 718.8 253.0 719.3 253.7 C719.8 254.4 720.2 255.1 720.7 255.8 C721.2 256.5 721.6 257.2 722.1 257.9 C722.6 258.5 723.1 259.2 723.5 259.9 C724.0 260.6 724.5 261.3 725.0 262.0 C725.4 262.7 725.9 263.4 726.4 264.1 C726.9 264.8 727.3 265.5 727.8 266.1 C728.3 266.8 728.8 267.5 729.3 268.2 C729.7 268.9 730.2 269.6 730.7 270.3 C731.2 271.0 731.6 271.7 732.1 272.4 C732.6 273.1 733.1 273.8 733.5 274.5 C734.0 275.2 734.5 275.9 735.0 276.5 C735.5 277.2 735.9 277.9 736.4 278.6 C736.9 279.3 737.3 280.0 737.8 280.7 C738.3 281.4 738.8 282.1 739.2 282.9 C739.7 283.6 740.2 284.3 740.6 285.0 C741.1 285.7 741.6 286.4 742.0 287.1 C742.5 287.8 743.0 288.5 743.4 289.2 C743.9 289.9 744.3 290.7 744.8 291.4 C745.3 292.1 745.7 292.8 746.2 293.5 C746.6 294.3 747.1 295.0 747.5 295.7 C748.0 296.4 748.4 297.1 748.9 297.9 C749.3 298.6 749.8 299.3 750.2 300.1 C750.6 300.8 751.1 301.5 751.5 302.3 C751.9 303.0 752.4 303.8 752.8 304.5 C753.2 305.2 753.7 306.0 754.1 306.7 C754.5 307.5 754.9 308.2 755.4 309.0 C755.8 309.7 756.2 310.4 756.6 311.2 C757.0 311.9 757.5 312.7 757.9 313.4 C758.3 314.2 758.7 314.9 759.1 315.7 C759.5 316.4 759.9 317.2 760.3 317.9 C760.7 318.7 761.1 319.4 761.5 320.2 C761.9 320.9 762.3 321.7 762.7 322.4 C763.1 323.2 763.5 323.9 763.9 324.7 C764.3 325.4 764.7 326.2 765.1 326.9 C765.5 327.7 765.9 328.4 766.2 329.2 C766.6 329.9 767.0 330.7 767.4 331.4 C767.8 332.1 768.1 332.9 768.5 333.6 C768.9 334.4 769.3 335.1 769.6 335.9 C770.0 336.6 770.4 337.3 770.7 338.1 C771.1 338.8 771.5 339.5 771.8 340.3 C772.2 341.0 772.6 341.7 772.9 342.5 C773.3 343.2 773.6 343.9 774.0 344.6 C774.3 345.4 774.7 346.1 775.0 346.8 C775.4 347.5 775.8 348.2 776.1 349.0 C776.4 349.7 776.8 350.4 777.1 351.1 C777.5 351.8 777.8 352.6 778.2 353.3 C778.5 354.0 778.9 354.7 779.2 355.4 C779.5 356.2 779.9 356.9 780.2 357.6 C780.5 358.3 780.9 359.0 781.2 359.8 C781.5 360.5 781.9 361.2 782.2 361.9 C782.5 362.7 782.9 363.4 783.2 364.1 C783.5 364.9 783.9 365.6 784.2 366.3 C784.5 367.1 784.9 367.8 785.2 368.6 C785.5 369.3 785.8 370.0 786.2 370.8 C786.5 371.5 786.8 372.3 787.1 373.1 C787.5 373.8 787.8 374.6 788.1 375.3 C788.4 376.1 788.8 376.9 789.1 377.6 C789.4 378.4 789.7 379.2 790.0 380.0 C790.4 380.8 790.7 381.6 791.0 382.4 C791.3 383.2 791.7 384.0 792.0 384.8 C792.3 385.6 792.6 386.4 793.0 387.2 C793.3 388.0 793.6 388.9 793.9 389.7 C794.2 390.5 794.6 391.4 794.9 392.2 C795.2 393.1 795.5 393.9 795.9 394.8 C796.2 395.6 796.5 396.5 796.8 397.4 C797.2 398.3 797.5 399.2 797.8 400.1 C798.1 401.0 798.5 401.9 798.8 402.8 C799.1 403.7 799.4 404.6 799.8 405.5 C800.1 406.5 800.4 407.4 800.8 408.4 C801.1 409.3 801.4 410.3 801.8 411.2 C802.1 412.1 802.5 413.1 802.8 414.0 C803.2 414.9 803.5 415.8 803.9 416.7 C804.2 417.6 804.6 418.4 805.0 419.3 C805.4 420.1 805.8 420.9 806.2 421.7 C806.6 422.4 807.0 423.1 807.4 423.8 C807.8 424.4 808.3 425.1 808.7 425.6 C809.2 426.2 809.5 426.7 810.2 427.1 C811.1 427.8 812.8 429.2 814.0 429.0 C815.4 428.8 816.8 426.5 818.0 425.0 C819.2 423.5 819.9 422.0 821.0 420.0 C822.7 417.1 825.0 413.1 826.8 409.0 C828.9 404.0 830.4 397.4 832.5 392.0 C834.5 386.8 836.8 382.0 839.0 377.0 C841.2 372.0 843.4 366.8 845.5 362.0 C847.4 357.5 849.2 353.3 851.0 349.0 C852.8 344.7 854.9 339.9 856.5 336.0 C857.8 332.7 858.4 330.4 860.0 327.0 C862.2 322.4 866.0 315.8 869.3 311.1 C872.3 306.9 875.4 303.1 878.7 299.9 C881.7 297.0 884.8 294.5 888.0 292.4 C891.0 290.4 894.2 288.8 897.4 287.3 C900.5 285.9 903.7 284.6 906.7 283.6 C909.3 282.7 911.7 282.3 914.2 281.3 C916.8 280.2 919.4 278.5 922.0 277.0 C924.7 275.5 927.0 274.4 930.0 272.5 C934.3 269.8 940.2 265.6 945.0 262.0 C949.5 258.6 953.7 255.1 958.0 251.6"/></g>
<rect x="97.7" y="17.2" width="860.0" height="532.0" stroke="#000" stroke-width="3.4" fill="none"/>
<g font-family="Liberation Sans, Arial, sans-serif" font-weight="bold" font-size="29.5" fill="#000"><text transform="translate(80.6 26.7) scale(0.975 1)" text-anchor="end">0</text><text transform="translate(80.6 79.9) scale(0.975 1)" text-anchor="end">−5</text><text transform="translate(80.6 133.1) scale(0.975 1)" text-anchor="end">−10</text><text transform="translate(80.6 186.3) scale(0.975 1)" text-anchor="end">−15</text><text transform="translate(80.6 239.5) scale(0.975 1)" text-anchor="end">−20</text><text transform="translate(80.6 292.7) scale(0.975 1)" text-anchor="end">−25</text><text transform="translate(80.6 345.9) scale(0.975 1)" text-anchor="end">−30</text><text transform="translate(80.6 399.1) scale(0.975 1)" text-anchor="end">−35</text><text transform="translate(80.6 452.3) scale(0.975 1)" text-anchor="end">−40</text><text transform="translate(80.6 505.5) scale(0.975 1)" text-anchor="end">−45</text><text transform="translate(80.6 558.7) scale(0.975 1)" text-anchor="end">−50</text></g>
<g font-family="Liberation Sans, Arial, sans-serif" font-weight="bold" font-size="29.5" fill="#000"><text transform="translate(97.9 592.5) scale(0.975 1)" text-anchor="middle">0</text><text transform="translate(140.9 592.5) scale(0.975 1)" text-anchor="middle">1</text><text transform="translate(183.9 592.5) scale(0.975 1)" text-anchor="middle">2</text><text transform="translate(226.9 592.5) scale(0.975 1)" text-anchor="middle">3</text><text transform="translate(269.9 592.5) scale(0.975 1)" text-anchor="middle">4</text><text transform="translate(312.9 592.5) scale(0.975 1)" text-anchor="middle">5</text><text transform="translate(355.9 592.5) scale(0.975 1)" text-anchor="middle">6</text><text transform="translate(398.9 592.5) scale(0.975 1)" text-anchor="middle">7</text><text transform="translate(441.9 592.5) scale(0.975 1)" text-anchor="middle">8</text><text transform="translate(484.9 592.5) scale(0.975 1)" text-anchor="middle">9</text><text transform="translate(527.9 592.5) scale(0.975 1)" text-anchor="middle">10</text><text transform="translate(570.9 592.5) scale(0.975 1)" text-anchor="middle">11</text><text transform="translate(613.9 592.5) scale(0.975 1)" text-anchor="middle">12</text><text transform="translate(656.9 592.5) scale(0.975 1)" text-anchor="middle">13</text><text transform="translate(699.9 592.5) scale(0.975 1)" text-anchor="middle">14</text><text transform="translate(742.9 592.5) scale(0.975 1)" text-anchor="middle">15</text><text transform="translate(785.9 592.5) scale(0.975 1)" text-anchor="middle">16</text><text transform="translate(828.9 592.5) scale(0.975 1)" text-anchor="middle">17</text><text transform="translate(871.9 592.5) scale(0.975 1)" text-anchor="middle">18</text><text transform="translate(914.9 592.5) scale(0.975 1)" text-anchor="middle">19</text><text transform="translate(957.9 592.5) scale(0.975 1)" text-anchor="middle">20</text></g>
<text transform="translate(528 630.6) scale(0.965 1)" text-anchor="middle" font-family="Liberation Sans, Arial, sans-serif" font-weight="bold" font-size="29.5">FREQUENCY (GHz)</text>
<text transform="translate(1017.6 636.2) rotate(-90)" font-family="Liberation Sans, Arial, sans-serif" font-size="19">019</text>
</svg></body></html>
